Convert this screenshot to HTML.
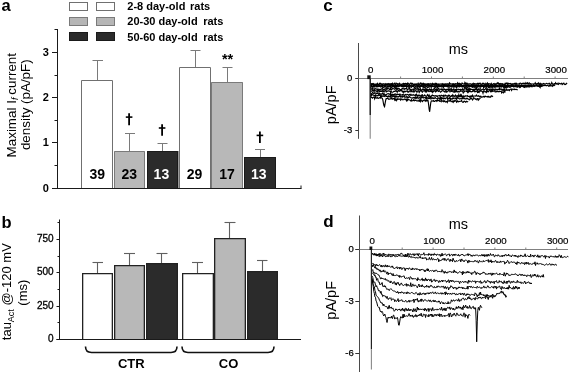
<!DOCTYPE html>
<html><head><meta charset="utf-8"><style>
html,body{margin:0;padding:0;background:#fff;}
body{width:569px;height:372px;overflow:hidden;}
svg{display:block;filter:grayscale(100%);}
text{font-family:"Liberation Sans", sans-serif;}
</style></head><body>
<svg width="569" height="372" viewBox="0 0 569 372">
<rect width="569" height="372" fill="#fff"/>
<text x="1.5" y="11.0" font-size="16.5" font-weight="bold">a</text>
<rect x="69.5" y="2.5" width="18" height="8" fill="#ffffff" stroke="#707070" stroke-width="1"/>
<rect x="96.5" y="2.5" width="18" height="8" fill="#ffffff" stroke="#707070" stroke-width="1"/>
<text x="127.3" y="9.8" font-size="11" font-weight="bold">2-8 day-old</text>
<text x="190" y="9.8" font-size="11" font-weight="bold">rats</text>
<rect x="69.5" y="17.5" width="18" height="8" fill="#b6b6b6" stroke="#7a7a7a" stroke-width="1"/>
<rect x="96.5" y="17.5" width="18" height="8" fill="#b6b6b6" stroke="#7a7a7a" stroke-width="1"/>
<text x="127.3" y="25.4" font-size="11" font-weight="bold">20-30 day-old</text>
<text x="203.2" y="25.4" font-size="11" font-weight="bold">rats</text>
<rect x="69.5" y="32.5" width="18" height="8" fill="#2b2b2b" stroke="#1a1a1a" stroke-width="1"/>
<rect x="96.5" y="32.5" width="18" height="8" fill="#2b2b2b" stroke="#1a1a1a" stroke-width="1"/>
<text x="127.3" y="41.0" font-size="11" font-weight="bold">50-60 day-old</text>
<text x="203.2" y="41.0" font-size="11" font-weight="bold">rats</text>
<line x1="57.5" y1="29" x2="57.5" y2="188.5" stroke="#1a1a1a" stroke-width="1"/>
<line x1="52" y1="188.5" x2="301.5" y2="188.5" stroke="#1a1a1a" stroke-width="1"/>
<line x1="301" y1="185.5" x2="301" y2="188.5" stroke="#1a1a1a" stroke-width="1"/>
<line x1="54.5" y1="29.5" x2="57.5" y2="29.5" stroke="#1a1a1a" stroke-width="1"/>
<line x1="52" y1="188.5" x2="57.5" y2="188.5" stroke="#1a1a1a" stroke-width="1"/>
<text x="48.8" y="191.9" font-size="11" font-weight="bold" text-anchor="end">0</text>
<line x1="52" y1="142.5" x2="57.5" y2="142.5" stroke="#1a1a1a" stroke-width="1"/>
<text x="48.8" y="145.9" font-size="11" font-weight="bold" text-anchor="end">1</text>
<line x1="52" y1="97.5" x2="57.5" y2="97.5" stroke="#1a1a1a" stroke-width="1"/>
<text x="48.8" y="100.9" font-size="11" font-weight="bold" text-anchor="end">2</text>
<line x1="52" y1="52.5" x2="57.5" y2="52.5" stroke="#1a1a1a" stroke-width="1"/>
<text x="48.8" y="55.9" font-size="11" font-weight="bold" text-anchor="end">3</text>
<line x1="54.5" y1="165.5" x2="57.5" y2="165.5" stroke="#1a1a1a" stroke-width="1"/>
<line x1="54.5" y1="120.5" x2="57.5" y2="120.5" stroke="#1a1a1a" stroke-width="1"/>
<line x1="54.5" y1="75.5" x2="57.5" y2="75.5" stroke="#1a1a1a" stroke-width="1"/>
<line x1="97.5" y1="80" x2="97.5" y2="60.5" stroke="#7a7a7a" stroke-width="1"/>
<line x1="92.5" y1="60.5" x2="103" y2="60.5" stroke="#7a7a7a" stroke-width="1"/>
<rect x="81" y="80" width="32" height="108" fill="#ffffff"/>
<path d="M81.5,188 L81.5,80.5 L112.5,80.5 L112.5,188" fill="none" stroke="#707070" stroke-width="1"/>
<text x="97.2" y="178.9" font-size="14" font-weight="bold" text-anchor="middle" fill="#000">39</text>
<line x1="129.5" y1="151" x2="129.5" y2="133.5" stroke="#7a7a7a" stroke-width="1"/>
<line x1="125" y1="133.5" x2="135" y2="133.5" stroke="#7a7a7a" stroke-width="1"/>
<rect x="114" y="151" width="31" height="37" fill="#b8b8b8"/>
<path d="M114.5,188 L114.5,151.5 L144.5,151.5 L144.5,188" fill="none" stroke="#7a7a7a" stroke-width="1"/>
<text x="129.3" y="178.9" font-size="14" font-weight="bold" text-anchor="middle" fill="#000">23</text>
<line x1="162.5" y1="151" x2="162.5" y2="143.5" stroke="#7a7a7a" stroke-width="1"/>
<line x1="157.5" y1="143.5" x2="167.5" y2="143.5" stroke="#7a7a7a" stroke-width="1"/>
<rect x="147" y="151" width="31" height="37" fill="#2b2b2b"/>
<path d="M147.5,188 L147.5,151.5 L177.5,151.5 L177.5,188" fill="none" stroke="#1a1a1a" stroke-width="1"/>
<text x="161.4" y="178.9" font-size="14" font-weight="bold" text-anchor="middle" fill="#fff">13</text>
<line x1="195.5" y1="67" x2="195.5" y2="50.5" stroke="#7a7a7a" stroke-width="1"/>
<line x1="190.5" y1="50.5" x2="200.5" y2="50.5" stroke="#7a7a7a" stroke-width="1"/>
<rect x="179" y="67" width="32" height="121" fill="#ffffff"/>
<path d="M179.5,188 L179.5,67.5 L210.5,67.5 L210.5,188" fill="none" stroke="#707070" stroke-width="1"/>
<text x="194.6" y="178.9" font-size="14" font-weight="bold" text-anchor="middle" fill="#000">29</text>
<line x1="227.5" y1="82" x2="227.5" y2="67.5" stroke="#7a7a7a" stroke-width="1"/>
<line x1="222.5" y1="67.5" x2="232.5" y2="67.5" stroke="#7a7a7a" stroke-width="1"/>
<rect x="211" y="82" width="32" height="106" fill="#b8b8b8"/>
<path d="M211.5,188 L211.5,82.5 L242.5,82.5 L242.5,188" fill="none" stroke="#7a7a7a" stroke-width="1"/>
<text x="227.0" y="178.9" font-size="14" font-weight="bold" text-anchor="middle" fill="#000">17</text>
<line x1="260.5" y1="157" x2="260.5" y2="149.5" stroke="#7a7a7a" stroke-width="1"/>
<line x1="255" y1="149.5" x2="265" y2="149.5" stroke="#7a7a7a" stroke-width="1"/>
<rect x="244" y="157" width="32" height="31" fill="#2b2b2b"/>
<path d="M244.5,188 L244.5,157.5 L275.5,157.5 L275.5,188" fill="none" stroke="#1a1a1a" stroke-width="1"/>
<text x="258.8" y="178.9" font-size="14" font-weight="bold" text-anchor="middle" fill="#fff">13</text>
<rect x="178" y="151" width="1" height="37" fill="#9a9a9a"/>
<line x1="129.1" y1="113.3" x2="129.1" y2="125.2" stroke="#000" stroke-width="1.8"/>
<line x1="125.8" y1="117.1" x2="132.4" y2="117.1" stroke="#000" stroke-width="1.6"/>
<line x1="162.1" y1="124.2" x2="162.1" y2="135.8" stroke="#000" stroke-width="1.8"/>
<line x1="158.79999999999998" y1="128.0" x2="165.4" y2="128.0" stroke="#000" stroke-width="1.6"/>
<line x1="259.9" y1="131.6" x2="259.9" y2="143.0" stroke="#000" stroke-width="1.8"/>
<line x1="256.59999999999997" y1="135.4" x2="263.2" y2="135.4" stroke="#000" stroke-width="1.6"/>
<text x="227.6" y="64.4" font-size="14.5" font-weight="bold" text-anchor="middle">**</text>
<text transform="translate(15.8,105.2) rotate(-90)" font-size="13.4" text-anchor="middle">Maximal I<tspan font-size="9" dy="2" font-style="italic">f</tspan><tspan dy="-2" dx="-0.8"> current</tspan></text>
<text transform="translate(30.3,104.7) rotate(-90)" font-size="13.4" text-anchor="middle">density (pA/pF)</text>
<text x="1.6" y="227.9" font-size="16.5" font-weight="bold">b</text>
<line x1="59.5" y1="219.5" x2="59.5" y2="339.5" stroke="#1a1a1a" stroke-width="1"/>
<line x1="56.5" y1="339.5" x2="301" y2="339.5" stroke="#1a1a1a" stroke-width="1"/>
<line x1="56.5" y1="339.5" x2="59.5" y2="339.5" stroke="#1a1a1a" stroke-width="1"/>
<text x="53.6" y="342.3" font-size="10" text-anchor="end" stroke="#000" stroke-width="0.3">0</text>
<line x1="56.5" y1="306.5" x2="59.5" y2="306.5" stroke="#1a1a1a" stroke-width="1"/>
<text x="53.6" y="309.3" font-size="10" text-anchor="end" stroke="#000" stroke-width="0.3">250</text>
<line x1="56.5" y1="272.5" x2="59.5" y2="272.5" stroke="#1a1a1a" stroke-width="1"/>
<text x="53.6" y="275.3" font-size="10" text-anchor="end" stroke="#000" stroke-width="0.3">500</text>
<line x1="56.5" y1="239.5" x2="59.5" y2="239.5" stroke="#1a1a1a" stroke-width="1"/>
<text x="53.6" y="242.3" font-size="10" text-anchor="end" stroke="#000" stroke-width="0.3">750</text>
<line x1="57.5" y1="322.5" x2="59.5" y2="322.5" stroke="#1a1a1a" stroke-width="1"/>
<line x1="57.5" y1="289.5" x2="59.5" y2="289.5" stroke="#1a1a1a" stroke-width="1"/>
<line x1="57.5" y1="256.5" x2="59.5" y2="256.5" stroke="#1a1a1a" stroke-width="1"/>
<line x1="57.5" y1="222.5" x2="59.5" y2="222.5" stroke="#1a1a1a" stroke-width="1"/>
<line x1="97.5" y1="273" x2="97.5" y2="262.5" stroke="#606060" stroke-width="1.1"/>
<line x1="92.5" y1="262.5" x2="103" y2="262.5" stroke="#606060" stroke-width="1.1"/>
<rect x="82" y="273" width="31" height="66" fill="#ffffff"/>
<path d="M82.65,339 L82.65,273.65 L112.35,273.65 L112.35,339" fill="none" stroke="#222" stroke-width="1.3"/>
<line x1="129.5" y1="265" x2="129.5" y2="253.5" stroke="#606060" stroke-width="1.1"/>
<line x1="124" y1="253.5" x2="135" y2="253.5" stroke="#606060" stroke-width="1.1"/>
<rect x="114" y="265" width="31" height="74" fill="#b8b8b8"/>
<path d="M114.65,339 L114.65,265.65 L144.35,265.65 L144.35,339" fill="none" stroke="#222" stroke-width="1.3"/>
<line x1="161.5" y1="263" x2="161.5" y2="253.5" stroke="#606060" stroke-width="1.1"/>
<line x1="156.5" y1="253.5" x2="167.5" y2="253.5" stroke="#606060" stroke-width="1.1"/>
<rect x="146" y="263" width="32" height="76" fill="#2b2b2b"/>
<path d="M146.65,339 L146.65,263.65 L177.35,263.65 L177.35,339" fill="none" stroke="#222" stroke-width="1.3"/>
<line x1="197.5" y1="273" x2="197.5" y2="262.5" stroke="#606060" stroke-width="1.1"/>
<line x1="192" y1="262.5" x2="203" y2="262.5" stroke="#606060" stroke-width="1.1"/>
<rect x="182" y="273" width="32" height="66" fill="#ffffff"/>
<path d="M182.65,339 L182.65,273.65 L213.35,273.65 L213.35,339" fill="none" stroke="#222" stroke-width="1.3"/>
<line x1="229.5" y1="238" x2="229.5" y2="222.5" stroke="#606060" stroke-width="1.1"/>
<line x1="224.5" y1="222.5" x2="235.5" y2="222.5" stroke="#606060" stroke-width="1.1"/>
<rect x="214" y="238" width="32" height="101" fill="#b8b8b8"/>
<path d="M214.65,339 L214.65,238.65 L245.35,238.65 L245.35,339" fill="none" stroke="#222" stroke-width="1.3"/>
<line x1="262.5" y1="271" x2="262.5" y2="260.5" stroke="#606060" stroke-width="1.1"/>
<line x1="257" y1="260.5" x2="267.5" y2="260.5" stroke="#606060" stroke-width="1.1"/>
<rect x="247" y="271" width="31" height="68" fill="#2b2b2b"/>
<path d="M247.65,339 L247.65,271.65 L277.35,271.65 L277.35,339" fill="none" stroke="#222" stroke-width="1.3"/>
<path d="M85.5,346.5 Q85.5,352.5 91.5,352.5 L171,352.5 Q177,352.5 177,346.5" fill="none" stroke="#111" stroke-width="1.6"/>
<path d="M182,346.5 Q182,352.5 188,352.5 L268,352.5 Q274,352.5 274,346.5" fill="none" stroke="#111" stroke-width="1.6"/>
<text x="131.3" y="368" font-size="13" font-weight="bold" text-anchor="middle">CTR</text>
<text x="228.5" y="368" font-size="13" font-weight="bold" text-anchor="middle">CO</text>
<text transform="translate(11.2,291.7) rotate(-90)" font-size="13" text-anchor="middle">tau<tspan font-size="9" dy="2.5">Act</tspan><tspan dy="-2.5"> @-120 mV</tspan></text>
<text transform="translate(27.4,292.7) rotate(-90)" font-size="13" text-anchor="middle">(ms)</text>
<text x="323.3" y="11.0" font-size="17" font-weight="bold">c</text>
<line x1="358.5" y1="43" x2="358.5" y2="138.8" stroke="#4a4a4a" stroke-width="1"/>
<line x1="355.5" y1="78.5" x2="568" y2="78.5" stroke="#808080" stroke-width="1"/>
<line x1="355.3" y1="78.5" x2="358.5" y2="78.5" stroke="#333" stroke-width="1"/>
<text x="352.2" y="80.7" font-size="9.5" text-anchor="end" stroke="#000" stroke-width="0.25">0</text>
<line x1="355.3" y1="130.5" x2="358.5" y2="130.5" stroke="#333" stroke-width="1"/>
<text x="352.2" y="132.7" font-size="9.5" text-anchor="end" stroke="#000" stroke-width="0.25">-3</text>
<line x1="369.7" y1="76.5" x2="369.7" y2="78.5" stroke="#808080" stroke-width="1"/>
<text x="370.7" y="72.7" font-size="9.7" text-anchor="middle" stroke="#000" stroke-width="0.2">0</text>
<line x1="400.6" y1="76.5" x2="400.6" y2="78.5" stroke="#808080" stroke-width="1"/>
<line x1="431.5" y1="76.5" x2="431.5" y2="78.5" stroke="#808080" stroke-width="1"/>
<text x="432.5" y="72.7" font-size="9.7" text-anchor="middle" stroke="#000" stroke-width="0.2">1000</text>
<line x1="462.4" y1="76.5" x2="462.4" y2="78.5" stroke="#808080" stroke-width="1"/>
<line x1="493.3" y1="76.5" x2="493.3" y2="78.5" stroke="#808080" stroke-width="1"/>
<text x="494.3" y="72.7" font-size="9.7" text-anchor="middle" stroke="#000" stroke-width="0.2">2000</text>
<line x1="524.2" y1="76.5" x2="524.2" y2="78.5" stroke="#808080" stroke-width="1"/>
<line x1="555.1" y1="76.5" x2="555.1" y2="78.5" stroke="#808080" stroke-width="1"/>
<text x="556.1" y="72.7" font-size="9.7" text-anchor="middle" stroke="#000" stroke-width="0.2">3000</text>
<text x="458.3" y="53.7" font-size="14.5" text-anchor="middle">ms</text>
<text transform="translate(335.5,104.8) rotate(-90)" font-size="14.5" text-anchor="middle">pA/pF</text>
<path d="M370.80,83.7 L371.35,84.0 L371.90,83.8 L372.45,83.7 L373.00,83.5 L373.55,83.8 L374.10,84.4 L374.65,84.1 L375.20,84.4 L375.75,84.1 L376.30,84.1 L376.85,84.0 L377.40,83.3 L377.95,84.3 L378.50,84.2 L379.05,84.2 L379.60,83.3 L380.15,83.2 L380.70,83.6 L381.25,83.8 L381.80,84.1 L382.35,84.0 L382.90,84.2 L383.45,83.7 L384.00,84.1 L384.55,84.1 L385.10,83.7 L385.65,84.7 L386.20,84.2 L386.75,84.5 L387.30,83.7 L387.85,83.7 L388.40,83.8 L388.95,83.9 L389.50,84.2 L390.05,84.1 L390.60,83.8 L391.15,83.6 L391.70,83.7 L392.25,84.5 L392.80,83.6 L393.35,84.1 L393.90,84.1 L394.45,83.3 L395.00,84.0 L395.55,84.5 L396.10,83.1 L396.65,83.8 L397.20,83.9 L397.75,83.6 L398.30,84.2 L398.85,83.9 L399.40,83.3 L399.95,84.3 L400.50,84.2 L401.05,84.3 L401.60,84.6 L402.15,84.1 L402.70,84.0 L403.25,83.4 L403.80,84.2 L404.35,83.7 L404.90,83.8 L405.45,83.4 L406.00,83.5 L406.55,83.7 L407.10,84.5 L407.65,83.1 L408.20,83.3 L408.75,84.0 L409.30,84.5 L409.85,84.2 L410.40,83.1 L410.95,82.9 L411.50,84.1 L412.05,83.6 L412.60,83.5 L413.15,84.3 L413.70,84.4 L414.25,84.0 L414.80,84.0 L415.35,84.1 L415.90,84.6 L416.45,84.2 L417.00,84.1 L417.55,84.2 L418.10,83.3 L418.65,84.5 L419.20,84.3 L419.75,84.1 L420.30,83.1 L420.85,83.7 L421.40,84.3 L421.95,83.2 L422.50,83.8 L423.05,84.3 L423.60,83.4 L424.15,84.6 L424.70,84.1 L425.25,83.9 L425.80,84.1 L426.35,84.2 L426.90,84.0 L427.45,84.4 L428.00,83.6 L428.55,83.7 L429.10,84.3 L429.65,83.9 L430.20,83.5 L430.75,84.3 L431.30,84.5 L431.85,83.7 L432.40,83.3 L432.95,83.8 L433.50,83.8 L434.05,83.8 L434.60,84.5 L435.15,83.5 L435.70,84.4 L436.25,83.4 L436.80,83.6 L437.35,84.2 L437.90,84.4 L438.45,84.3 L439.00,84.0 L439.55,84.0 L440.10,84.0 L440.65,84.1 L441.20,83.8 L441.75,84.0 L442.30,84.1 L442.85,83.9 L443.40,84.2 L443.95,84.1 L444.50,84.7 L445.05,84.0 L445.60,83.7 L446.15,83.7 L446.70,83.9 L447.25,84.3 L447.80,83.7 L448.35,84.0 L448.90,84.6 L449.45,82.8 L450.00,83.4 L450.55,84.0 L451.10,84.0 L451.65,84.0 L452.20,83.7 L452.75,84.1 L453.30,84.0 L453.85,83.7 L454.40,84.9 L454.95,84.0 L455.50,83.6 L456.05,83.8 L456.60,83.8 L457.15,83.8 L457.70,82.7 L458.25,83.7 L458.80,84.3 L459.35,83.4 L459.90,83.8 L460.45,84.3 L461.00,84.2 L461.55,84.5 L462.10,83.1 L462.65,83.7 L463.20,83.7 L463.75,84.1 L464.30,84.3 L464.85,82.7 L465.40,84.3 L465.95,83.2 L466.50,84.1 L467.05,83.2 L467.60,83.9 L468.15,84.3 L468.70,83.8 L469.25,83.9 L469.80,84.2 L470.35,83.9 L470.90,83.8 L471.45,84.5 L472.00,84.3 L472.55,83.7 L473.10,85.0 L473.65,83.4 L474.20,84.2 L474.75,83.7 L475.30,83.9 L475.85,84.1 L476.40,83.9 L476.95,84.1 L477.50,83.2 L478.05,83.2 L478.60,84.1 L479.15,83.4 L479.70,83.4 L480.25,83.2 L480.80,84.4 L481.35,84.1 L481.90,84.4 L482.45,83.4 L483.00,83.8 L483.55,83.4 L484.10,84.1 L484.65,84.5 L485.20,83.5 L485.75,84.5 L486.30,84.2 L486.85,83.7 L487.40,83.0 L487.95,84.4 L488.50,83.8 L489.05,83.6 L489.60,84.0 L490.15,84.0 L490.70,84.4 L491.25,83.4 L491.80,84.3 L492.35,84.4 L492.90,84.4 L493.45,83.7 L494.00,83.5 L494.55,84.2 L495.10,83.9 L495.65,83.9 L496.20,84.4 L496.75,83.7 L497.30,82.8 L497.85,83.6 L498.40,83.0 L498.95,84.1 L499.50,83.9 L500.05,83.5 L500.60,83.8 L501.15,84.1 L501.70,83.8 L502.25,84.4 L502.80,83.8 L503.35,84.2 L503.90,84.4 L504.45,84.5 L505.00,83.5 L505.55,84.2 L506.10,83.0 L506.65,83.3 L507.20,83.0 L507.75,84.2 L508.30,83.3 L508.85,83.8 L509.40,83.7 L509.95,83.8 L510.50,83.5 L511.05,83.9 L511.60,84.5 L512.15,83.8 L512.70,84.0 L513.25,84.2 L513.80,83.7 L514.35,83.3 L514.90,83.5 L515.45,84.2 L516.00,83.1 L516.55,83.5 L517.10,84.2 L517.65,84.1 L518.20,83.8 L518.75,84.1 L519.30,83.8 L519.85,83.3 L520.40,83.1 L520.95,83.5 L521.50,84.2 L522.05,83.5 L522.60,83.4 L523.15,83.4 L523.70,83.1 L524.25,83.7 L524.80,83.3 L525.35,83.9 L525.90,82.8 L526.45,83.9 L527.00,83.5 L527.55,82.9 L528.10,84.1 L528.65,83.6 L529.20,82.8 L529.75,83.4 L530.30,83.9 L530.85,83.6 L531.40,84.1 L531.95,84.1 L532.50,84.0 L533.05,83.9 L533.60,84.3 L534.15,84.0 L534.70,83.9 L535.25,82.9 L535.80,84.1 L536.35,84.3 L536.90,83.6 L537.45,83.5 L538.00,84.6 L538.55,83.0 L539.10,83.9 L539.65,84.8 L540.20,83.4 L540.75,84.0 L541.30,84.5 L541.85,83.7 L542.40,84.0 L542.95,84.1 L543.50,83.4 L544.05,83.7 L544.60,83.9 L545.15,84.1 L545.70,83.7 L546.25,83.6 L546.80,83.3 L547.35,83.6 L547.90,84.1 L548.45,83.8 L549.00,83.4 L549.55,83.4 L550.10,84.8 L550.65,84.2 L551.20,84.0 L551.75,82.6 L552.30,84.0 L552.85,83.9 L553.40,84.4 L553.95,83.9 L554.50,83.7 L555.05,83.9 L555.60,82.9 L556.15,84.1 L556.70,83.9 L557.25,83.4 L557.80,84.3 L558.35,84.5 L558.90,83.1 L559.45,83.4 L560.00,83.8 L560.55,83.8 L561.10,83.5 L561.65,83.3 L562.20,84.6 L562.75,84.1 L563.30,83.2 L563.85,83.1 L564.40,84.4 L564.95,84.1 L565.50,84.5 L566.05,84.0 L566.60,83.3 L567.15,83.8" fill="none" stroke="#000" stroke-width="1.15"/>
<path d="M370.80,83.4 L371.35,84.1 L371.90,84.5 L372.45,84.8 L373.00,84.3 L373.55,84.6 L374.10,84.9 L374.65,84.9 L375.20,85.0 L375.75,84.8 L376.30,84.6 L376.85,85.1 L377.40,84.8 L377.95,84.4 L378.50,84.5 L379.05,84.8 L379.60,84.8 L380.15,84.9 L380.70,84.8 L381.25,84.9 L381.80,84.8 L382.35,84.3 L382.90,85.0 L383.45,85.3 L384.00,85.1 L384.55,84.8 L385.10,85.1 L385.65,84.4 L386.20,84.0 L386.75,84.9 L387.30,84.4 L387.85,85.2 L388.40,84.4 L388.95,83.7 L389.50,84.4 L390.05,85.6 L390.60,84.7 L391.15,84.3 L391.70,84.5 L392.25,85.1 L392.80,85.1 L393.35,85.0 L393.90,85.6 L394.45,85.2 L395.00,84.9 L395.55,85.2 L396.10,85.7 L396.65,85.4 L397.20,85.4 L397.75,84.4 L398.30,84.9 L398.85,85.3 L399.40,84.8 L399.95,85.4 L400.50,85.2 L401.05,85.4 L401.60,84.8 L402.15,86.1 L402.70,85.5 L403.25,84.8 L403.80,85.0 L404.35,86.1 L404.90,84.8 L405.45,85.4 L406.00,85.4 L406.55,85.0 L407.10,84.4 L407.65,85.0 L408.20,85.1 L408.75,85.5 L409.30,85.3 L409.85,85.0 L410.40,85.4 L410.95,85.2 L411.50,85.1 L412.05,85.0 L412.60,84.9 L413.15,85.3 L413.70,84.5 L414.25,84.7 L414.80,85.0 L415.35,84.3 L415.90,84.8 L416.45,84.1 L417.00,84.7 L417.55,85.3 L418.10,85.3 L418.65,85.0 L419.20,84.9 L419.75,84.4 L420.30,85.9 L420.85,85.3 L421.40,85.5 L421.95,84.6 L422.50,84.9 L423.05,84.2 L423.60,85.4 L424.15,85.5 L424.70,84.2 L425.25,85.0 L425.80,85.3 L426.35,84.2 L426.90,84.2 L427.45,84.6 L428.00,84.8 L428.55,84.4 L429.10,85.1 L429.65,85.2 L430.20,85.4 L430.75,85.4 L431.30,85.8 L431.85,85.6 L432.40,84.5 L432.95,84.8 L433.50,84.6 L434.05,84.6 L434.60,85.0 L435.15,85.1 L435.70,85.3 L436.25,84.4 L436.80,84.5 L437.35,85.1 L437.90,85.0 L438.45,85.0 L439.00,85.1 L439.55,84.7 L440.10,85.4 L440.65,85.3 L441.20,85.1 L441.75,84.8 L442.30,85.0 L442.85,83.9 L443.40,84.7 L443.95,85.1 L444.50,84.4 L445.05,85.2 L445.60,85.2 L446.15,84.5 L446.70,85.0 L447.25,85.0 L447.80,85.3 L448.35,85.4 L448.90,85.1 L449.45,84.8 L450.00,85.1 L450.55,85.1 L451.10,85.5 L451.65,85.3 L452.20,84.8 L452.75,84.5 L453.30,85.0 L453.85,84.8 L454.40,84.7 L454.95,85.1 L455.50,84.9 L456.05,85.2 L456.60,85.4 L457.15,85.0 L457.70,86.3 L458.25,85.0 L458.80,85.7 L459.35,85.2 L459.90,85.7 L460.45,84.1 L461.00,84.8 L461.55,85.3 L462.10,85.5 L462.65,86.3 L463.20,85.4 L463.75,85.8 L464.30,85.6 L464.85,85.6 L465.40,85.4 L465.95,85.1 L466.50,85.5 L467.05,84.7 L467.60,85.8 L468.15,84.8 L468.70,85.3 L469.25,86.2 L469.80,85.1 L470.35,85.2 L470.90,85.8 L471.45,85.3 L472.00,84.9 L472.55,85.4 L473.10,85.5 L473.65,85.6 L474.20,84.9 L474.75,86.1 L475.30,86.0 L475.85,85.3 L476.40,85.4 L476.95,85.1 L477.50,85.9 L478.05,84.9 L478.60,85.6 L479.15,85.1 L479.70,85.0 L480.25,85.6 L480.80,85.9 L481.35,85.3 L481.90,85.0 L482.45,85.7 L483.00,85.3 L483.55,85.4 L484.10,86.0 L484.65,85.8 L485.20,85.1 L485.75,86.4 L486.30,85.3 L486.85,85.7 L487.40,85.0 L487.95,85.3 L488.50,84.5 L489.05,86.1 L489.60,85.9 L490.15,84.8 L490.70,84.6 L491.25,84.6 L491.80,85.9 L492.35,85.1 L492.90,85.3 L493.45,85.2 L494.00,85.3 L494.55,84.8 L495.10,85.4 L495.65,84.7 L496.20,85.3 L496.75,85.5 L497.30,85.6 L497.85,85.2 L498.40,84.9 L498.95,85.4 L499.50,85.1 L500.05,86.1 L500.60,85.7 L501.15,85.3 L501.70,85.2 L502.25,85.0 L502.80,84.9 L503.35,85.2 L503.90,85.5 L504.45,85.6 L505.00,85.6 L505.55,86.4 L506.10,85.1 L506.65,85.4 L507.20,86.7 L507.75,84.5 L508.30,85.2 L508.85,85.5 L509.40,85.5 L509.95,85.6 L510.50,85.3 L511.05,85.6 L511.60,85.4 L512.15,85.8 L512.70,84.5 L513.25,85.0 L513.80,85.4 L514.35,84.9 L514.90,84.9 L515.45,85.7 L516.00,85.1 L516.55,85.7 L517.10,85.8 L517.65,85.6 L518.20,85.7 L518.75,85.4 L519.30,84.8 L519.85,85.4 L520.40,85.7 L520.95,85.2 L521.50,85.4 L522.05,85.8 L522.60,85.1 L523.15,85.8 L523.70,86.3 L524.25,85.2 L524.80,85.5 L525.35,85.4 L525.90,86.2 L526.45,85.6 L527.00,85.9 L527.55,85.2 L528.10,85.5 L528.65,85.5 L529.20,84.7 L529.75,86.2 L530.30,85.9 L530.85,84.7 L531.40,85.8 L531.95,85.4 L532.50,85.7 L533.05,85.7 L533.60,84.8 L534.15,85.4 L534.70,86.2 L535.25,85.2 L535.80,85.0 L536.35,84.9 L536.90,85.0 L537.45,85.7 L538.00,86.3 L538.55,85.7 L539.10,85.6 L539.65,86.6 L540.20,85.3 L540.75,85.2 L541.30,85.8 L541.85,85.8 L542.40,85.1 L542.95,85.0 L543.50,85.7 L544.05,85.7 L544.60,85.0 L545.15,85.5 L545.70,85.3 L546.25,85.8 L546.80,85.5 L547.35,85.5 L547.90,85.4 L548.45,86.1 L549.00,86.2 L549.55,85.4 L550.10,86.0 L550.65,85.2 L551.20,85.6 L551.75,85.9 L552.30,86.3 L552.85,85.4 L553.40,85.6 L553.95,85.7 L554.50,84.9 L555.05,85.6" fill="none" stroke="#000" stroke-width="1.15"/>
<path d="M370.80,84.8 L371.35,85.5 L371.90,84.7 L372.45,84.3 L373.00,85.4 L373.55,85.6 L374.10,85.2 L374.65,86.0 L375.20,85.4 L375.75,85.2 L376.30,85.8 L376.85,84.7 L377.40,85.2 L377.95,85.6 L378.50,86.1 L379.05,85.5 L379.60,85.8 L380.15,85.3 L380.70,85.8 L381.25,86.5 L381.80,85.3 L382.35,86.9 L382.90,85.3 L383.45,85.7 L384.00,85.7 L384.55,86.2 L385.10,85.0 L385.65,84.5 L386.20,86.0 L386.75,86.1 L387.30,86.0 L387.85,87.1 L388.40,85.8 L388.95,85.8 L389.50,86.2 L390.05,85.9 L390.60,86.6 L391.15,85.0 L391.70,85.5 L392.25,83.8 L392.80,86.1 L393.35,85.5 L393.90,86.2 L394.45,86.9 L395.00,85.7 L395.55,85.5 L396.10,85.4 L396.65,85.2 L397.20,85.3 L397.75,86.0 L398.30,85.7 L398.85,85.7 L399.40,85.6 L399.95,86.2 L400.50,86.0 L401.05,85.6 L401.60,86.1 L402.15,85.6 L402.70,85.1 L403.25,86.5 L403.80,86.0 L404.35,85.2 L404.90,86.3 L405.45,85.9 L406.00,84.9 L406.55,86.6 L407.10,85.9 L407.65,86.2 L408.20,85.8 L408.75,85.7 L409.30,84.9 L409.85,86.3 L410.40,85.8 L410.95,85.6 L411.50,85.9 L412.05,85.8 L412.60,86.1 L413.15,85.5 L413.70,85.7 L414.25,84.6 L414.80,85.5 L415.35,86.1 L415.90,86.5 L416.45,85.6 L417.00,85.7 L417.55,86.6 L418.10,85.6 L418.65,86.2 L419.20,86.7 L419.75,85.8 L420.30,86.4 L420.85,85.4 L421.40,85.9 L421.95,85.7 L422.50,85.8 L423.05,86.4 L423.60,87.1 L424.15,85.4 L424.70,85.5 L425.25,86.1 L425.80,85.2 L426.35,86.1 L426.90,86.1 L427.45,85.6 L428.00,86.1 L428.55,85.0 L429.10,86.2 L429.65,85.0 L430.20,85.4 L430.75,85.5 L431.30,85.6 L431.85,86.3 L432.40,85.9 L432.95,85.6 L433.50,86.1 L434.05,86.7 L434.60,85.8 L435.15,86.0 L435.70,86.5 L436.25,86.0 L436.80,85.1 L437.35,87.2 L437.90,87.1 L438.45,84.7 L439.00,85.8 L439.55,86.1 L440.10,86.4 L440.65,86.2 L441.20,85.7 L441.75,85.3 L442.30,85.9 L442.85,86.4 L443.40,85.3 L443.95,85.3 L444.50,85.8 L445.05,84.8 L445.60,85.7 L446.15,85.6 L446.70,86.1 L447.25,85.5 L447.80,85.4 L448.35,85.7 L448.90,85.8 L449.45,85.5 L450.00,85.9 L450.55,86.3 L451.10,86.5 L451.65,86.8 L452.20,85.5 L452.75,85.7 L453.30,84.5 L453.85,86.9 L454.40,85.5 L454.95,85.9 L455.50,86.2 L456.05,85.2 L456.60,86.2 L457.15,85.9 L457.70,84.9 L458.25,86.1 L458.80,86.6 L459.35,84.9 L459.90,86.4 L460.45,86.0 L461.00,86.2 L461.55,86.2 L462.10,86.6 L462.65,85.8 L463.20,86.4 L463.75,85.7 L464.30,86.3 L464.85,85.5 L465.40,85.9 L465.95,86.9 L466.50,86.2 L467.05,85.8 L467.60,85.3 L468.15,85.5 L468.70,86.0 L469.25,86.5 L469.80,86.2 L470.35,86.2 L470.90,85.9 L471.45,86.7 L472.00,85.7 L472.55,85.7 L473.10,86.4 L473.65,86.0 L474.20,85.8 L474.75,85.6 L475.30,85.8 L475.85,86.3 L476.40,86.2 L476.95,85.3 L477.50,86.2 L478.05,86.1 L478.60,85.4 L479.15,86.4 L479.70,85.8 L480.25,85.8 L480.80,86.4 L481.35,86.7 L481.90,85.6 L482.45,86.2 L483.00,85.5 L483.55,87.3 L484.10,85.7 L484.65,86.7 L485.20,85.6 L485.75,86.4 L486.30,87.2 L486.85,84.6 L487.40,85.8 L487.95,86.3 L488.50,86.0 L489.05,85.6 L489.60,87.2 L490.15,86.1 L490.70,85.1 L491.25,86.5 L491.80,85.1 L492.35,86.7 L492.90,85.7 L493.45,86.1 L494.00,86.7 L494.55,86.1 L495.10,85.3 L495.65,85.1 L496.20,86.7 L496.75,86.4 L497.30,85.6 L497.85,86.5 L498.40,86.3 L498.95,86.4 L499.50,84.8 L500.05,85.9 L500.60,86.5 L501.15,86.5 L501.70,86.5 L502.25,84.7 L502.80,86.2 L503.35,86.3 L503.90,87.5 L504.45,85.5 L505.00,85.9 L505.55,86.1 L506.10,86.6 L506.65,85.8 L507.20,86.7 L507.75,85.6 L508.30,86.2 L508.85,85.8 L509.40,86.2 L509.95,85.7 L510.50,85.2 L511.05,86.7 L511.60,86.3 L512.15,85.8 L512.70,86.2 L513.25,86.6 L513.80,85.6 L514.35,86.0 L514.90,86.4 L515.45,86.4 L516.00,85.9 L516.55,84.9 L517.10,86.8 L517.65,86.3 L518.20,86.1 L518.75,86.0 L519.30,86.3 L519.85,85.9 L520.40,85.6 L520.95,85.7 L521.50,85.8 L522.05,85.8 L522.60,85.5 L523.15,86.5 L523.70,85.4 L524.25,86.5 L524.80,85.6 L525.35,86.3 L525.90,86.9 L526.45,86.3 L527.00,85.7 L527.55,86.2 L528.10,86.2 L528.65,85.2 L529.20,85.8 L529.75,86.2 L530.30,85.9 L530.85,86.2 L531.40,86.6 L531.95,86.6 L532.50,86.7 L533.05,86.5 L533.60,86.0 L534.15,86.2 L534.70,86.0 L535.25,86.0 L535.80,86.1 L536.35,85.2 L536.90,86.0 L537.45,86.2 L538.00,85.6 L538.55,86.2 L539.10,86.5 L539.65,86.1 L540.20,87.3 L540.75,84.8 L541.30,86.1 L541.85,85.2 L542.40,86.7" fill="none" stroke="#000" stroke-width="1.15"/>
<path d="M370.80,88.0 L371.35,85.1 L371.90,86.6 L372.45,86.8 L373.00,86.4 L373.55,86.9 L374.10,85.3 L374.65,87.0 L375.20,86.8 L375.75,86.6 L376.30,86.3 L376.85,86.9 L377.40,86.3 L377.95,86.7 L378.50,86.3 L379.05,85.4 L379.60,86.6 L380.15,86.7 L380.70,87.0 L381.25,86.1 L381.80,86.6 L382.35,86.9 L382.90,86.7 L383.45,87.3 L384.00,87.7 L384.55,86.1 L385.10,85.5 L385.65,87.1 L386.20,87.4 L386.75,87.1 L387.30,87.0 L387.85,86.3 L388.40,86.2 L388.95,87.1 L389.50,86.1 L390.05,85.6 L390.60,86.1 L391.15,88.0 L391.70,87.7 L392.25,86.2 L392.80,86.2 L393.35,86.7 L393.90,86.2 L394.45,87.3 L395.00,86.6 L395.55,86.0 L396.10,87.3 L396.65,86.3 L397.20,86.7 L397.75,86.6 L398.30,86.4 L398.85,86.8 L399.40,86.2 L399.95,85.6 L400.50,85.4 L401.05,85.9 L401.60,86.2 L402.15,86.6 L402.70,86.6 L403.25,86.9 L403.80,86.7 L404.35,86.2 L404.90,86.2 L405.45,85.4 L406.00,86.5 L406.55,86.9 L407.10,86.9 L407.65,86.5 L408.20,86.5 L408.75,87.1 L409.30,86.6 L409.85,87.0 L410.40,86.9 L410.95,86.7 L411.50,87.3 L412.05,86.3 L412.60,86.4 L413.15,86.2 L413.70,86.2 L414.25,87.5 L414.80,87.6 L415.35,86.6 L415.90,86.9 L416.45,87.2 L417.00,87.0 L417.55,87.3 L418.10,85.9 L418.65,86.2 L419.20,86.8 L419.75,87.4 L420.30,86.7 L420.85,86.1 L421.40,86.4 L421.95,86.2 L422.50,86.1 L423.05,87.4 L423.60,86.3 L424.15,86.6 L424.70,87.8 L425.25,87.3 L425.80,86.8 L426.35,86.3 L426.90,86.8 L427.45,87.5 L428.00,86.9 L428.55,87.3 L429.10,86.7 L429.65,86.9 L430.20,86.5 L430.75,86.8 L431.30,87.3 L431.85,85.8 L432.40,86.6 L432.95,86.7 L433.50,86.3 L434.05,86.4 L434.60,87.0 L435.15,87.7 L435.70,86.9 L436.25,86.8 L436.80,85.7 L437.35,87.7 L437.90,86.6 L438.45,86.6 L439.00,86.0 L439.55,86.6 L440.10,86.0 L440.65,86.6 L441.20,86.9 L441.75,86.6 L442.30,86.8 L442.85,86.1 L443.40,87.4 L443.95,86.2 L444.50,85.6 L445.05,86.5 L445.60,86.2 L446.15,86.0 L446.70,86.4 L447.25,86.8 L447.80,85.9 L448.35,86.5 L448.90,87.4 L449.45,87.0 L450.00,86.5 L450.55,86.7 L451.10,86.5 L451.65,86.6 L452.20,87.0 L452.75,86.5 L453.30,85.3 L453.85,86.6 L454.40,86.1 L454.95,87.0 L455.50,86.3 L456.05,86.7 L456.60,87.8 L457.15,86.0 L457.70,86.0 L458.25,85.8 L458.80,85.3 L459.35,85.6 L459.90,86.8 L460.45,86.2 L461.00,85.6 L461.55,85.8 L462.10,86.9 L462.65,86.2 L463.20,86.4 L463.75,86.8 L464.30,87.3 L464.85,87.7 L465.40,87.2 L465.95,86.7 L466.50,86.7 L467.05,87.6 L467.60,87.4 L468.15,86.4 L468.70,86.9 L469.25,86.8 L469.80,86.6 L470.35,86.3 L470.90,85.9 L471.45,86.3 L472.00,85.8 L472.55,87.3 L473.10,86.9 L473.65,85.9 L474.20,87.4 L474.75,87.1 L475.30,85.6 L475.85,87.6 L476.40,87.0 L476.95,87.7 L477.50,85.9 L478.05,86.9 L478.60,86.8 L479.15,86.7 L479.70,86.7 L480.25,87.2 L480.80,85.8 L481.35,85.9 L481.90,85.8 L482.45,86.3 L483.00,86.3 L483.55,86.8 L484.10,86.7 L484.65,86.6 L485.20,86.2 L485.75,86.4 L486.30,87.1 L486.85,87.0 L487.40,86.7 L487.95,86.4 L488.50,87.5 L489.05,86.3 L489.60,87.0 L490.15,87.2 L490.70,86.5 L491.25,87.1 L491.80,86.0 L492.35,87.2 L492.90,86.7 L493.45,85.7 L494.00,87.0 L494.55,86.1 L495.10,87.3 L495.65,86.2 L496.20,86.5 L496.75,86.8 L497.30,86.4 L497.85,86.7 L498.40,86.3 L498.95,87.0 L499.50,86.6 L500.05,86.7 L500.60,85.1 L501.15,87.2 L501.70,86.6 L502.25,85.6 L502.80,86.7 L503.35,86.9 L503.90,87.2 L504.45,86.0 L505.00,87.5 L505.55,86.5 L506.10,87.9 L506.65,86.5 L507.20,87.0 L507.75,86.4 L508.30,86.0 L508.85,87.2 L509.40,87.1 L509.95,87.4 L510.50,87.1 L511.05,86.3 L511.60,85.7 L512.15,86.2 L512.70,86.2 L513.25,86.2 L513.80,86.9 L514.35,86.8 L514.90,86.5 L515.45,86.7 L516.00,86.5 L516.55,86.7 L517.10,87.0 L517.65,87.1 L518.20,86.2 L518.75,85.8 L519.30,87.4 L519.85,86.7 L520.40,87.2 L520.95,85.7 L521.50,86.4 L522.05,86.6 L522.60,85.8 L523.15,86.3 L523.70,87.0 L524.25,87.2 L524.80,87.5 L525.35,86.1 L525.90,85.8 L526.45,86.9 L527.00,87.1 L527.55,86.7 L528.10,85.9 L528.65,87.0 L529.20,87.0 L529.75,86.9 L530.30,86.3" fill="none" stroke="#000" stroke-width="1.15"/>
<path d="M370.80,89.0 L371.35,89.3 L371.90,88.5 L372.45,87.9 L373.00,89.1 L373.55,89.2 L374.10,88.9 L374.65,89.4 L375.20,88.6 L375.75,88.9 L376.30,88.8 L376.85,89.3 L377.40,89.9 L377.95,88.8 L378.50,90.1 L379.05,89.8 L379.60,89.4 L380.15,89.3 L380.70,90.0 L381.25,88.9 L381.80,89.0 L382.35,88.4 L382.90,89.3 L383.45,89.8 L384.00,89.3 L384.55,89.3 L385.10,88.9 L385.65,89.1 L386.20,88.3 L386.75,89.6 L387.30,88.8 L387.85,88.5 L388.40,88.7 L388.95,88.6 L389.50,89.5 L390.05,89.7 L390.60,88.3 L391.15,89.6 L391.70,89.6 L392.25,88.8 L392.80,88.3 L393.35,88.7 L393.90,88.7 L394.45,89.3 L395.00,88.9 L395.55,88.0 L396.10,89.2 L396.65,88.3 L397.20,89.6 L397.75,88.4 L398.30,88.7 L398.85,88.6 L399.40,88.8 L399.95,89.8 L400.50,89.6 L401.05,89.5 L401.60,89.3 L402.15,88.3 L402.70,88.8 L403.25,88.8 L403.80,88.6 L404.35,89.4 L404.90,88.7 L405.45,88.8 L406.00,88.6 L406.55,88.0 L407.10,89.5 L407.65,89.9 L408.20,89.2 L408.75,88.6 L409.30,87.7 L409.85,89.3 L410.40,89.8 L410.95,89.3 L411.50,89.7 L412.05,90.0 L412.60,89.8 L413.15,88.9 L413.70,89.8 L414.25,89.6 L414.80,88.3 L415.35,89.0 L415.90,88.4 L416.45,89.1 L417.00,89.5 L417.55,88.6 L418.10,88.1 L418.65,89.9 L419.20,89.4 L419.75,90.0 L420.30,88.5 L420.85,89.8 L421.40,90.3 L421.95,90.3 L422.50,89.1 L423.05,89.4 L423.60,89.1 L424.15,89.8 L424.70,89.8 L425.25,89.3 L425.80,88.5 L426.35,89.6 L426.90,89.0 L427.45,89.6 L428.00,89.4 L428.55,90.1 L429.10,89.9 L429.65,89.0 L430.20,89.5 L430.75,90.2 L431.30,89.0 L431.85,89.5 L432.40,89.9 L432.95,90.0 L433.50,89.6 L434.05,88.6 L434.60,88.6 L435.15,89.4 L435.70,89.5 L436.25,90.7 L436.80,88.8 L437.35,89.9 L437.90,89.7 L438.45,88.4 L439.00,88.9 L439.55,89.4 L440.10,89.1 L440.65,89.2 L441.20,89.6 L441.75,88.9 L442.30,89.6 L442.85,89.0 L443.40,89.0 L443.95,89.6 L444.50,89.0 L445.05,89.5 L445.60,90.2 L446.15,89.4 L446.70,89.3 L447.25,89.8 L447.80,89.2 L448.35,90.0 L448.90,88.7 L449.45,89.7 L450.00,89.1 L450.55,88.9 L451.10,90.4 L451.65,88.9 L452.20,90.4 L452.75,89.8 L453.30,90.2 L453.85,88.9 L454.40,90.1 L454.95,90.2 L455.50,89.4 L456.05,89.3 L456.60,90.8 L457.15,89.5 L457.70,89.2 L458.25,89.1 L458.80,89.7 L459.35,89.6 L459.90,89.5 L460.45,90.4 L461.00,89.3 L461.55,89.7 L462.10,90.3 L462.65,88.9 L463.20,90.0 L463.75,90.5 L464.30,88.7 L464.85,88.9 L465.40,88.9 L465.95,88.5 L466.50,89.7 L467.05,88.5 L467.60,89.8 L468.15,90.3 L468.70,88.6 L469.25,89.3 L469.80,88.5 L470.35,89.9 L470.90,89.1 L471.45,89.4 L472.00,89.5 L472.55,89.8 L473.10,89.3 L473.65,89.5 L474.20,89.2 L474.75,89.6 L475.30,88.9 L475.85,89.6 L476.40,88.5 L476.95,89.3 L477.50,90.6 L478.05,89.6 L478.60,88.9 L479.15,89.7 L479.70,89.0 L480.25,88.7 L480.80,89.2 L481.35,90.0 L481.90,89.8 L482.45,89.5 L483.00,89.1 L483.55,89.0 L484.10,90.3 L484.65,89.7 L485.20,89.1 L485.75,88.4 L486.30,88.9 L486.85,91.0 L487.40,89.0 L487.95,89.6 L488.50,89.7 L489.05,89.5 L489.60,89.5 L490.15,88.9 L490.70,89.1 L491.25,90.6 L491.80,89.2 L492.35,90.1 L492.90,88.7 L493.45,89.5 L494.00,89.8 L494.55,90.2 L495.10,89.0 L495.65,90.0 L496.20,89.9 L496.75,89.3 L497.30,89.9 L497.85,89.2 L498.40,89.2 L498.95,89.7 L499.50,88.2 L500.05,89.6 L500.60,89.1 L501.15,88.9 L501.70,89.5 L502.25,90.1 L502.80,89.5 L503.35,90.4 L503.90,89.1 L504.45,89.0 L505.00,90.6 L505.55,89.9 L506.10,90.2 L506.65,89.3 L507.20,90.2 L507.75,89.9 L508.30,90.1 L508.85,89.8 L509.40,90.4 L509.95,89.4 L510.50,89.2 L511.05,88.9 L511.60,90.4 L512.15,89.4 L512.70,89.2 L513.25,89.3 L513.80,89.5 L514.35,89.1 L514.90,89.6 L515.45,89.4 L516.00,89.5 L516.55,89.3 L517.10,89.8 L517.65,89.5" fill="none" stroke="#000" stroke-width="1.15"/>
<path d="M370.80,91.1 L371.35,91.2 L371.90,91.2 L372.45,89.8 L373.00,90.8 L373.55,90.6 L374.10,91.5 L374.65,90.2 L375.20,90.7 L375.75,90.9 L376.30,90.9 L376.85,91.7 L377.40,90.9 L377.95,91.6 L378.50,90.3 L379.05,90.1 L379.60,91.8 L380.15,91.4 L380.70,91.4 L381.25,91.2 L381.80,91.4 L382.35,90.5 L382.90,91.7 L383.45,90.9 L384.00,91.7 L384.55,91.2 L385.10,90.1 L385.65,90.5 L386.20,91.8 L386.75,91.1 L387.30,91.0 L387.85,91.3 L388.40,90.9 L388.95,90.9 L389.50,91.2 L390.05,91.3 L390.60,92.0 L391.15,91.2 L391.70,92.2 L392.25,92.2 L392.80,92.1 L393.35,91.8 L393.90,91.3 L394.45,91.3 L395.00,91.1 L395.55,90.8 L396.10,91.2 L396.65,90.8 L397.20,92.1 L397.75,91.5 L398.30,90.9 L398.85,90.1 L399.40,91.2 L399.95,91.0 L400.50,90.6 L401.05,90.6 L401.60,90.0 L402.15,91.5 L402.70,91.2 L403.25,92.6 L403.80,91.2 L404.35,91.1 L404.90,92.0 L405.45,91.3 L406.00,91.3 L406.55,91.0 L407.10,90.9 L407.65,92.0 L408.20,91.7 L408.75,92.1 L409.30,91.0 L409.85,91.2 L410.40,90.7 L410.95,91.7 L411.50,90.4 L412.05,91.5 L412.60,91.8 L413.15,92.0 L413.70,90.7 L414.25,91.8 L414.80,90.8 L415.35,90.8 L415.90,90.5 L416.45,91.8 L417.00,92.1 L417.55,90.9 L418.10,90.8 L418.65,91.0 L419.20,92.6 L419.75,91.8 L420.30,90.9 L420.85,90.2 L421.40,90.8 L421.95,91.9 L422.50,92.2 L423.05,91.1 L423.60,90.8 L424.15,90.9 L424.70,90.2 L425.25,91.7 L425.80,90.6 L426.35,91.8 L426.90,90.3 L427.45,90.5 L428.00,91.4 L428.55,90.8 L429.10,91.7 L429.65,91.2 L430.20,90.6 L430.75,91.6 L431.30,91.7 L431.85,90.2 L432.40,92.3 L432.95,91.5 L433.50,91.7 L434.05,90.2 L434.60,90.9 L435.15,91.1 L435.70,91.9 L436.25,90.5 L436.80,90.8 L437.35,90.2 L437.90,91.2 L438.45,91.5 L439.00,90.4 L439.55,91.0 L440.10,91.6 L440.65,92.2 L441.20,91.7 L441.75,91.1 L442.30,90.7 L442.85,90.8 L443.40,90.9 L443.95,91.4 L444.50,91.3 L445.05,92.2 L445.60,91.5 L446.15,90.7 L446.70,92.2 L447.25,91.9 L447.80,91.4 L448.35,90.9 L448.90,90.3 L449.45,90.8 L450.00,91.8 L450.55,90.9 L451.10,90.6 L451.65,91.5 L452.20,91.5 L452.75,91.7 L453.30,91.7 L453.85,92.1 L454.40,90.9 L454.95,91.9 L455.50,90.8 L456.05,91.8 L456.60,91.5 L457.15,91.5 L457.70,91.9 L458.25,91.4 L458.80,92.0 L459.35,91.9 L459.90,91.5 L460.45,91.1 L461.00,91.0 L461.55,91.1 L462.10,91.3 L462.65,91.4 L463.20,93.0 L463.75,91.8 L464.30,91.8 L464.85,90.9 L465.40,91.0 L465.95,91.2 L466.50,91.5 L467.05,90.9 L467.60,92.3 L468.15,91.1 L468.70,92.0 L469.25,90.1 L469.80,91.4 L470.35,91.6 L470.90,91.5 L471.45,91.8 L472.00,91.6 L472.55,91.5 L473.10,90.4 L473.65,91.1 L474.20,90.2 L474.75,91.8 L475.30,91.6 L475.85,91.4 L476.40,91.0 L476.95,91.1 L477.50,92.5 L478.05,92.4 L478.60,91.4 L479.15,92.2 L479.70,90.6 L480.25,90.4 L480.80,91.2 L481.35,91.0 L481.90,91.2 L482.45,91.6 L483.00,93.2 L483.55,91.1 L484.10,91.5 L484.65,91.7 L485.20,91.5 L485.75,92.0 L486.30,92.5 L486.85,90.8 L487.40,91.6 L487.95,91.4 L488.50,91.7 L489.05,90.7 L489.60,90.6 L490.15,90.3 L490.70,91.8 L491.25,91.6 L491.80,91.6 L492.35,90.2 L492.90,91.3 L493.45,91.1 L494.00,90.8 L494.55,91.0 L495.10,91.9 L495.65,91.9 L496.20,91.5 L496.75,91.8 L497.30,91.2 L497.85,91.6 L498.40,91.6 L498.95,91.9 L499.50,91.5 L500.05,91.5 L500.60,91.5 L501.15,91.2 L501.70,92.8 L502.25,91.9 L502.80,91.8 L503.35,92.9 L503.90,92.4 L504.45,90.7 L505.00,92.0 L505.55,92.1" fill="none" stroke="#000" stroke-width="1.15"/>
<path d="M370.80,94.1 L371.35,93.8 L371.90,93.5 L372.45,92.5 L373.00,92.7 L373.55,93.4 L374.10,93.5 L374.65,92.7 L375.20,93.1 L375.75,93.1 L376.30,93.4 L376.85,93.6 L377.40,93.3 L377.95,92.8 L378.50,94.2 L379.05,94.4 L379.60,93.5 L380.15,94.2 L380.70,93.9 L381.25,94.1 L381.80,94.0 L382.35,93.3 L382.90,94.1 L383.45,94.4 L384.00,93.3 L384.55,94.9 L385.10,95.0 L385.65,94.9 L386.20,95.0 L386.75,94.4 L387.30,93.8 L387.85,93.7 L388.40,93.6 L388.95,94.1 L389.50,94.1 L390.05,94.5 L390.60,93.1 L391.15,95.5 L391.70,95.5 L392.25,94.2 L392.80,94.6 L393.35,94.6 L393.90,94.5 L394.45,94.2 L395.00,94.3 L395.55,93.9 L396.10,94.5 L396.65,94.4 L397.20,94.7 L397.75,94.0 L398.30,94.5 L398.85,94.6 L399.40,94.9 L399.95,94.0 L400.50,94.9 L401.05,95.2 L401.60,95.0 L402.15,94.5 L402.70,94.5 L403.25,94.6 L403.80,95.2 L404.35,95.7 L404.90,94.7 L405.45,94.5 L406.00,95.1 L406.55,95.0 L407.10,94.4 L407.65,94.5 L408.20,94.9 L408.75,95.4 L409.30,94.4 L409.85,94.5 L410.40,95.3 L410.95,94.4 L411.50,95.2 L412.05,95.3 L412.60,95.1 L413.15,94.6 L413.70,95.2 L414.25,95.1 L414.80,95.5 L415.35,94.8 L415.90,95.9 L416.45,94.4 L417.00,95.3 L417.55,95.4 L418.10,95.9 L418.65,95.1 L419.20,95.8 L419.75,95.2 L420.30,95.9 L420.85,96.5 L421.40,95.3 L421.95,95.8 L422.50,95.0 L423.05,96.1 L423.60,96.2 L424.15,95.6 L424.70,94.9 L425.25,95.8 L425.80,96.2 L426.35,96.2 L426.90,96.1 L427.45,94.6 L428.00,95.2 L428.55,96.4 L429.10,95.0 L429.65,96.3 L430.20,96.7 L430.75,96.1 L431.30,96.3 L431.85,95.5 L432.40,95.0 L432.95,95.6 L433.50,95.6 L434.05,95.7 L434.60,96.1 L435.15,95.6 L435.70,95.8 L436.25,96.0 L436.80,95.7 L437.35,96.8 L437.90,96.0 L438.45,95.8 L439.00,95.7 L439.55,95.5 L440.10,96.5 L440.65,95.9 L441.20,95.2 L441.75,95.5 L442.30,95.8 L442.85,95.6 L443.40,96.4 L443.95,95.2 L444.50,96.1 L445.05,96.0 L445.60,95.2 L446.15,95.9 L446.70,95.9 L447.25,96.2 L447.80,95.7 L448.35,96.1 L448.90,95.0 L449.45,95.3 L450.00,96.4 L450.55,96.5 L451.10,96.0 L451.65,95.6 L452.20,96.6 L452.75,94.8 L453.30,95.6 L453.85,96.4 L454.40,96.4 L454.95,95.5 L455.50,95.0 L456.05,96.8 L456.60,96.1 L457.15,95.6 L457.70,96.1 L458.25,96.6 L458.80,94.7 L459.35,96.7 L459.90,96.5 L460.45,95.0 L461.00,96.5 L461.55,95.1 L462.10,96.8 L462.65,96.4 L463.20,97.4 L463.75,95.8 L464.30,96.2 L464.85,96.8 L465.40,95.8 L465.95,95.8 L466.50,96.0 L467.05,96.2 L467.60,95.6 L468.15,96.5 L468.70,96.5 L469.25,96.3 L469.80,97.2 L470.35,96.1 L470.90,97.0 L471.45,96.0 L472.00,96.7 L472.55,95.2 L473.10,96.4 L473.65,96.2 L474.20,96.0 L474.75,96.0 L475.30,96.1 L475.85,95.9 L476.40,95.1 L476.95,96.0 L477.50,96.1 L478.05,96.1 L478.60,95.8 L479.15,96.3 L479.70,96.8 L480.25,96.3 L480.80,96.1 L481.35,97.2 L481.90,97.0 L482.45,96.9 L483.00,97.1 L483.55,96.3 L484.10,96.4 L484.65,97.1 L485.20,96.2 L485.75,96.4 L486.30,96.7 L486.85,96.7 L487.40,96.4 L487.95,97.1 L488.50,96.4 L489.05,96.9 L489.60,97.1 L490.15,96.9 L490.70,97.0 L491.25,95.9 L491.80,95.9 L492.35,96.2 L492.90,96.9" fill="none" stroke="#000" stroke-width="1.15"/>
<path d="M370.80,95.9 L371.35,94.4 L371.90,95.3 L372.45,94.7 L373.00,94.8 L373.55,95.1 L374.10,95.7 L374.65,95.4 L375.20,96.0 L375.75,94.8 L376.30,95.9 L376.85,96.0 L377.40,95.5 L377.95,95.8 L378.50,95.3 L379.05,95.0 L379.60,95.4 L380.15,95.3 L380.70,97.3 L381.25,95.5 L381.80,96.7 L382.35,95.9 L382.90,96.0 L383.45,96.3 L384.00,95.5 L384.55,96.5 L385.10,96.2 L385.65,95.2 L386.20,96.4 L386.75,96.4 L387.30,96.4 L387.85,97.0 L388.40,96.0 L388.95,96.5 L389.50,96.7 L390.05,95.8 L390.60,97.0 L391.15,95.5 L391.70,95.7 L392.25,96.7 L392.80,95.8 L393.35,96.4 L393.90,95.6 L394.45,96.6 L395.00,95.9 L395.55,96.8 L396.10,95.8 L396.65,96.9 L397.20,96.6 L397.75,96.8 L398.30,96.7 L398.85,96.9 L399.40,96.1 L399.95,95.4 L400.50,96.9 L401.05,96.4 L401.60,96.7 L402.15,97.2 L402.70,95.9 L403.25,96.6 L403.80,96.7 L404.35,96.5 L404.90,97.3 L405.45,97.1 L406.00,96.8 L406.55,96.7 L407.10,97.7 L407.65,96.9 L408.20,97.7 L408.75,97.6 L409.30,96.4 L409.85,96.8 L410.40,97.5 L410.95,97.7 L411.50,97.9 L412.05,98.0 L412.60,98.1 L413.15,97.4 L413.70,97.5 L414.25,98.1 L414.80,97.5 L415.35,98.3 L415.90,96.9 L416.45,98.2 L417.00,97.7 L417.55,96.8 L418.10,98.4 L418.65,98.1 L419.20,98.0 L419.75,97.4 L420.30,97.7 L420.85,98.8 L421.40,97.6 L421.95,96.1 L422.50,97.6 L423.05,97.4 L423.60,98.0 L424.15,97.8 L424.70,97.6 L425.25,97.6 L425.80,98.7 L426.35,97.3 L426.90,99.2 L427.45,97.8 L428.00,97.5 L428.55,98.6 L429.10,98.5 L429.65,97.6 L430.20,98.6 L430.75,97.2 L431.30,97.7 L431.85,98.8 L432.40,98.1 L432.95,97.5 L433.50,98.5 L434.05,98.7 L434.60,98.2 L435.15,97.3 L435.70,98.1 L436.25,98.5 L436.80,98.7 L437.35,99.3 L437.90,98.2 L438.45,98.0 L439.00,98.3 L439.55,99.0 L440.10,97.8 L440.65,99.1 L441.20,96.8 L441.75,98.8 L442.30,98.0 L442.85,98.6 L443.40,98.8 L443.95,97.7 L444.50,98.4 L445.05,98.5 L445.60,98.7 L446.15,97.9 L446.70,97.9 L447.25,97.4 L447.80,99.9 L448.35,98.4 L448.90,98.4 L449.45,97.7 L450.00,99.0 L450.55,98.2 L451.10,99.3 L451.65,99.0 L452.20,98.5 L452.75,98.9 L453.30,97.9 L453.85,98.4 L454.40,98.2 L454.95,97.9 L455.50,98.6 L456.05,98.5 L456.60,99.4 L457.15,96.8 L457.70,98.2 L458.25,98.1 L458.80,98.4 L459.35,98.9 L459.90,98.9 L460.45,98.7 L461.00,98.4 L461.55,99.0 L462.10,98.9 L462.65,97.7 L463.20,98.6 L463.75,98.0 L464.30,98.1 L464.85,98.8 L465.40,98.8 L465.95,98.8 L466.50,98.3 L467.05,98.7 L467.60,98.3 L468.15,99.0 L468.70,99.2 L469.25,99.8 L469.80,99.5 L470.35,98.4 L470.90,98.6 L471.45,98.3 L472.00,99.0 L472.55,100.0 L473.10,99.3 L473.65,97.7 L474.20,98.2 L474.75,98.2 L475.30,99.2 L475.85,98.9 L476.40,99.1 L476.95,99.9 L477.50,98.5 L478.05,98.5 L478.60,100.0 L479.15,99.2 L479.70,98.6 L480.25,97.9 L480.80,98.2" fill="none" stroke="#000" stroke-width="1.15"/>
<path d="M370.80,95.9 L371.35,97.4 L371.90,97.5 L372.45,98.1 L373.00,97.4 L373.55,97.1 L374.10,97.2 L374.65,98.8 L375.20,96.6 L375.75,97.8 L376.30,97.8 L376.85,98.2 L377.40,97.6 L377.95,98.2 L378.50,98.4 L379.05,97.9 L379.60,97.7 L380.15,97.9 L380.70,97.5 L381.25,98.0 L381.80,98.0 L382.35,98.3 L382.90,100.2 L383.45,103.5 L384.00,105.8 L384.55,106.7 L385.10,103.3 L385.65,100.4 L386.20,98.5 L386.75,98.7 L387.30,98.2 L387.85,98.1 L388.40,99.1 L388.95,99.4 L389.50,99.1 L390.05,99.0 L390.60,98.9 L391.15,98.5 L391.70,97.7 L392.25,99.2 L392.80,99.0 L393.35,98.6 L393.90,98.4 L394.45,99.7 L395.00,97.9 L395.55,100.1 L396.10,99.5 L396.65,100.5 L397.20,98.7 L397.75,99.2 L398.30,98.9 L398.85,99.3 L399.40,99.2 L399.95,98.9 L400.50,100.0 L401.05,98.9 L401.60,99.1 L402.15,99.8 L402.70,99.2 L403.25,99.2 L403.80,99.8 L404.35,99.4 L404.90,98.9 L405.45,99.6 L406.00,99.5 L406.55,100.7 L407.10,99.1 L407.65,100.4 L408.20,99.3 L408.75,99.6 L409.30,99.7 L409.85,100.1 L410.40,100.5 L410.95,101.0 L411.50,99.6 L412.05,100.8 L412.60,100.7 L413.15,100.6 L413.70,99.7 L414.25,100.7 L414.80,100.1 L415.35,100.4 L415.90,100.1 L416.45,100.7 L417.00,101.0 L417.55,101.0 L418.10,100.3 L418.65,101.0 L419.20,101.3 L419.75,99.9 L420.30,101.4 L420.85,99.7 L421.40,100.9 L421.95,100.9 L422.50,101.5 L423.05,100.7 L423.60,100.3 L424.15,100.1 L424.70,99.9 L425.25,101.1 L425.80,100.5 L426.35,100.2 L426.90,101.0 L427.45,100.2 L428.00,100.4 L428.55,104.0 L429.10,108.9 L429.65,111.8 L430.20,107.2 L430.75,102.8 L431.30,100.9 L431.85,100.8 L432.40,101.0 L432.95,101.2 L433.50,100.6 L434.05,101.4 L434.60,101.4 L435.15,101.0 L435.70,100.6 L436.25,100.6 L436.80,101.3 L437.35,100.3 L437.90,100.8 L438.45,100.5 L439.00,100.1 L439.55,101.3 L440.10,101.0 L440.65,101.0 L441.20,101.6 L441.75,100.1 L442.30,101.0 L442.85,101.2 L443.40,101.6 L443.95,100.4 L444.50,101.5 L445.05,101.3 L445.60,102.0 L446.15,101.8 L446.70,101.5 L447.25,102.5 L447.80,101.2 L448.35,100.9 L448.90,101.0 L449.45,100.7 L450.00,101.2 L450.55,100.1 L451.10,101.2 L451.65,101.5 L452.20,101.9 L452.75,101.1 L453.30,102.2 L453.85,100.9 L454.40,101.3 L454.95,100.2 L455.50,100.9 L456.05,100.9 L456.60,102.3 L457.15,101.7 L457.70,100.8 L458.25,101.8 L458.80,101.7 L459.35,101.3 L459.90,101.5 L460.45,101.3 L461.00,101.2 L461.55,100.5 L462.10,101.5 L462.65,102.3 L463.20,102.4 L463.75,101.4 L464.30,101.2 L464.85,101.5 L465.40,102.2 L465.95,101.8 L466.50,101.3 L467.05,101.9 L467.60,101.6 L468.15,102.0" fill="none" stroke="#000" stroke-width="1.15"/>
<line x1="370.2" y1="79" x2="370.2" y2="115" stroke="#111" stroke-width="1.4"/>
<line x1="370.2" y1="115" x2="370.2" y2="138.8" stroke="#888" stroke-width="1.1"/>
<rect x="367.3" y="75.3" width="3.4" height="3.8" fill="#111"/>
<text x="323.3" y="226.8" font-size="17" font-weight="bold">d</text>
<line x1="359.5" y1="215.5" x2="359.5" y2="372" stroke="#4a4a4a" stroke-width="1"/>
<line x1="355.5" y1="249.5" x2="568" y2="249.5" stroke="#808080" stroke-width="1"/>
<line x1="355.3" y1="249.5" x2="359.5" y2="249.5" stroke="#333" stroke-width="1"/>
<text x="353.8" y="251.7" font-size="9.5" text-anchor="end" stroke="#000" stroke-width="0.25">0</text>
<line x1="355.3" y1="301.5" x2="359.5" y2="301.5" stroke="#333" stroke-width="1"/>
<text x="353.8" y="303.7" font-size="9.5" text-anchor="end" stroke="#000" stroke-width="0.25">-3</text>
<line x1="355.3" y1="353.5" x2="359.5" y2="353.5" stroke="#333" stroke-width="1"/>
<text x="353.8" y="355.7" font-size="9.5" text-anchor="end" stroke="#000" stroke-width="0.25">-6</text>
<line x1="371.3" y1="247.5" x2="371.3" y2="249.5" stroke="#808080" stroke-width="1"/>
<text x="372.3" y="243.7" font-size="9.7" text-anchor="middle" stroke="#000" stroke-width="0.2">0</text>
<line x1="402.2" y1="247.5" x2="402.2" y2="249.5" stroke="#808080" stroke-width="1"/>
<line x1="433.1" y1="247.5" x2="433.1" y2="249.5" stroke="#808080" stroke-width="1"/>
<text x="434.1" y="243.7" font-size="9.7" text-anchor="middle" stroke="#000" stroke-width="0.2">1000</text>
<line x1="464.0" y1="247.5" x2="464.0" y2="249.5" stroke="#808080" stroke-width="1"/>
<line x1="494.9" y1="247.5" x2="494.9" y2="249.5" stroke="#808080" stroke-width="1"/>
<text x="495.9" y="243.7" font-size="9.7" text-anchor="middle" stroke="#000" stroke-width="0.2">2000</text>
<line x1="525.8" y1="247.5" x2="525.8" y2="249.5" stroke="#808080" stroke-width="1"/>
<line x1="556.7" y1="247.5" x2="556.7" y2="249.5" stroke="#808080" stroke-width="1"/>
<text x="557.7" y="243.7" font-size="9.7" text-anchor="middle" stroke="#000" stroke-width="0.2">3000</text>
<text x="458.3" y="229" font-size="14.5" text-anchor="middle">ms</text>
<text transform="translate(335.5,300.3) rotate(-90)" font-size="14.5" text-anchor="middle">pA/pF</text>
<path d="M372.20,254.0 L372.75,253.2 L373.30,254.4 L373.85,254.9 L374.40,253.5 L374.95,254.3 L375.50,255.0 L376.05,254.1 L376.60,253.9 L377.15,255.9 L377.70,255.0 L378.25,255.2 L378.80,253.7 L379.35,255.6 L379.90,253.2 L380.45,254.0 L381.00,255.0 L381.55,255.4 L382.10,253.7 L382.65,253.9 L383.20,254.6 L383.75,253.0 L384.30,254.9 L384.85,254.9 L385.40,254.1 L385.95,254.9 L386.50,255.0 L387.05,254.7 L387.60,254.9 L388.15,255.6 L388.70,254.1 L389.25,254.6 L389.80,254.1 L390.35,255.3 L390.90,254.2 L391.45,254.8 L392.00,254.6 L392.55,254.5 L393.10,255.8 L393.65,254.4 L394.20,255.6 L394.75,255.1 L395.30,255.5 L395.85,254.4 L396.40,255.2 L396.95,255.1 L397.50,254.1 L398.05,254.7 L398.60,254.4 L399.15,254.5 L399.70,255.5 L400.25,254.0 L400.80,253.3 L401.35,253.2 L401.90,254.2 L402.45,254.1 L403.00,254.5 L403.55,255.0 L404.10,255.9 L404.65,254.8 L405.20,254.9 L405.75,254.0 L406.30,255.0 L406.85,255.6 L407.40,255.6 L407.95,253.1 L408.50,255.2 L409.05,255.7 L409.60,255.2 L410.15,253.5 L410.70,254.3 L411.25,255.0 L411.80,254.9 L412.35,254.0 L412.90,253.9 L413.45,255.3 L414.00,253.6 L414.55,255.7 L415.10,254.6 L415.65,254.8 L416.20,253.6 L416.75,254.2 L417.30,255.1 L417.85,253.5 L418.40,256.1 L418.95,253.6 L419.50,253.7 L420.05,254.6 L420.60,255.0 L421.15,255.2 L421.70,254.3 L422.25,254.5 L422.80,254.4 L423.35,254.2 L423.90,252.7 L424.45,255.3 L425.00,254.8 L425.55,254.8 L426.10,254.2 L426.65,254.8 L427.20,254.6 L427.75,254.6 L428.30,255.5 L428.85,253.4 L429.40,254.8 L429.95,253.9 L430.50,254.4 L431.05,255.8 L431.60,253.9 L432.15,254.6 L432.70,254.2 L433.25,255.4 L433.80,253.9 L434.35,253.4 L434.90,255.1 L435.45,254.4 L436.00,254.4 L436.55,255.5 L437.10,254.0 L437.65,254.4 L438.20,254.8 L438.75,255.0 L439.30,254.3 L439.85,255.5 L440.40,256.4 L440.95,254.4 L441.50,256.1 L442.05,253.2 L442.60,255.8 L443.15,254.5 L443.70,254.9 L444.25,254.5 L444.80,254.3 L445.35,253.8 L445.90,254.5 L446.45,255.7 L447.00,255.6 L447.55,254.5 L448.10,254.4 L448.65,254.3 L449.20,253.9 L449.75,256.2 L450.30,255.3 L450.85,254.9 L451.40,254.5 L451.95,254.1 L452.50,255.8 L453.05,255.5 L453.60,254.2 L454.15,255.6 L454.70,254.1 L455.25,255.4 L455.80,254.2 L456.35,254.6 L456.90,255.3 L457.45,255.3 L458.00,255.7 L458.55,254.3 L459.10,256.1 L459.65,256.0 L460.20,255.0 L460.75,255.3 L461.30,254.4 L461.85,254.9 L462.40,254.0 L462.95,255.1 L463.50,255.2 L464.05,256.0 L464.60,255.7 L465.15,255.6 L465.70,254.8 L466.25,254.9 L466.80,254.8 L467.35,255.2 L467.90,253.6 L468.45,255.6 L469.00,253.9 L469.55,254.7 L470.10,255.1 L470.65,254.7 L471.20,256.3 L471.75,255.1 L472.30,256.3 L472.85,256.0 L473.40,254.8 L473.95,255.4 L474.50,256.1 L475.05,254.9 L475.60,255.2 L476.15,254.8 L476.70,255.2 L477.25,254.9 L477.80,255.3 L478.35,256.0 L478.90,256.2 L479.45,255.3 L480.00,255.4 L480.55,255.9 L481.10,255.0 L481.65,254.5 L482.20,256.1 L482.75,254.6 L483.30,256.0 L483.85,254.6 L484.40,256.6 L484.95,254.5 L485.50,255.9 L486.05,256.4 L486.60,254.6 L487.15,256.4 L487.70,254.7 L488.25,254.0 L488.80,255.9 L489.35,255.9 L489.90,255.2 L490.45,253.5 L491.00,255.3 L491.55,255.2 L492.10,255.1 L492.65,255.2 L493.20,254.1 L493.75,255.0 L494.30,256.8 L494.85,256.6 L495.40,255.2 L495.95,254.9 L496.50,255.7 L497.05,256.2 L497.60,256.0 L498.15,254.6 L498.70,255.6 L499.25,255.6 L499.80,256.6 L500.35,256.4 L500.90,255.9 L501.45,256.4 L502.00,255.2 L502.55,256.7 L503.10,255.2 L503.65,255.9 L504.20,256.3 L504.75,254.9 L505.30,255.1 L505.85,254.3 L506.40,255.8 L506.95,255.6 L507.50,255.4 L508.05,256.0 L508.60,254.1 L509.15,255.7 L509.70,255.8 L510.25,255.5 L510.80,256.3 L511.35,257.0 L511.90,255.4 L512.45,255.1 L513.00,255.3 L513.55,255.9 L514.10,256.2 L514.65,255.2 L515.20,256.6 L515.75,255.1 L516.30,256.5 L516.85,256.2 L517.40,256.2 L517.95,257.5 L518.50,255.7 L519.05,255.8 L519.60,256.3 L520.15,256.6 L520.70,254.9 L521.25,256.1 L521.80,255.4 L522.35,256.4 L522.90,257.0 L523.45,256.0 L524.00,255.9 L524.55,256.1 L525.10,253.8 L525.65,256.6 L526.20,256.5 L526.75,256.2 L527.30,255.8 L527.85,255.5 L528.40,256.0 L528.95,257.0 L529.50,256.0 L530.05,257.1 L530.60,254.2 L531.15,255.8 L531.70,256.4 L532.25,256.2 L532.80,255.0 L533.35,255.7 L533.90,257.1 L534.45,255.3 L535.00,255.5 L535.55,255.4 L536.10,255.8 L536.65,256.7 L537.20,256.7 L537.75,254.8 L538.30,257.4 L538.85,255.9 L539.40,255.9 L539.95,257.6 L540.50,256.3 L541.05,255.4 L541.60,255.9 L542.15,255.8 L542.70,255.6 L543.25,256.2 L543.80,257.1 L544.35,256.7 L544.90,255.4 L545.45,258.5 L546.00,255.7 L546.55,256.6 L547.10,256.5 L547.65,257.1 L548.20,256.3 L548.75,256.9 L549.30,258.1 L549.85,256.6 L550.40,255.8 L550.95,256.8 L551.50,256.0 L552.05,256.3 L552.60,256.7 L553.15,256.9 L553.70,256.4 L554.25,257.3 L554.80,256.5 L555.35,255.7 L555.90,257.3 L556.45,256.4 L557.00,257.6 L557.55,256.2 L558.10,257.1 L558.65,257.0 L559.20,254.7 L559.75,255.6 L560.30,255.9 L560.85,257.8 L561.40,255.4 L561.95,257.5 L562.50,257.6 L563.05,257.2 L563.60,257.3 L564.15,256.5 L564.70,256.8 L565.25,257.0 L565.80,257.2 L566.35,257.4 L566.90,256.7 L567.45,256.4 L568.00,256.5 L568.55,257.2" fill="none" stroke="#000" stroke-width="1.0"/>
<path d="M372.20,253.8 L372.75,254.2 L373.30,254.9 L373.85,254.9 L374.40,255.1 L374.95,253.4 L375.50,255.2 L376.05,255.3 L376.60,256.1 L377.15,254.1 L377.70,255.4 L378.25,256.0 L378.80,256.0 L379.35,256.6 L379.90,256.5 L380.45,255.0 L381.00,256.3 L381.55,255.6 L382.10,255.2 L382.65,257.0 L383.20,255.4 L383.75,255.3 L384.30,255.6 L384.85,255.3 L385.40,256.7 L385.95,256.3 L386.50,257.0 L387.05,256.3 L387.60,255.6 L388.15,256.8 L388.70,255.6 L389.25,255.8 L389.80,256.0 L390.35,256.2 L390.90,257.1 L391.45,255.7 L392.00,256.5 L392.55,256.2 L393.10,255.3 L393.65,255.5 L394.20,256.1 L394.75,256.6 L395.30,256.6 L395.85,256.7 L396.40,256.4 L396.95,256.0 L397.50,256.7 L398.05,255.7 L398.60,255.4 L399.15,256.2 L399.70,255.4 L400.25,256.1 L400.80,256.0 L401.35,256.1 L401.90,256.5 L402.45,256.0 L403.00,256.3 L403.55,255.3 L404.10,256.7 L404.65,256.0 L405.20,257.0 L405.75,254.6 L406.30,256.1 L406.85,257.0 L407.40,255.0 L407.95,256.6 L408.50,257.0 L409.05,257.0 L409.60,255.9 L410.15,257.2 L410.70,257.2 L411.25,256.4 L411.80,257.7 L412.35,257.2 L412.90,257.3 L413.45,257.0 L414.00,257.8 L414.55,257.5 L415.10,258.3 L415.65,257.9 L416.20,257.1 L416.75,257.5 L417.30,258.3 L417.85,257.4 L418.40,258.0 L418.95,258.2 L419.50,257.7 L420.05,256.2 L420.60,258.0 L421.15,258.2 L421.70,258.1 L422.25,257.5 L422.80,259.0 L423.35,258.1 L423.90,257.8 L424.45,257.7 L425.00,258.6 L425.55,257.6 L426.10,257.7 L426.65,260.0 L427.20,259.5 L427.75,259.3 L428.30,259.6 L428.85,259.1 L429.40,257.4 L429.95,259.6 L430.50,259.7 L431.05,259.2 L431.60,257.4 L432.15,259.9 L432.70,260.0 L433.25,258.7 L433.80,259.2 L434.35,259.7 L434.90,259.1 L435.45,260.0 L436.00,259.3 L436.55,259.8 L437.10,259.4 L437.65,258.3 L438.20,258.7 L438.75,261.9 L439.30,259.7 L439.85,260.6 L440.40,260.5 L440.95,260.9 L441.50,260.1 L442.05,259.2 L442.60,259.7 L443.15,258.3 L443.70,259.6 L444.25,260.4 L444.80,258.2 L445.35,260.0 L445.90,260.5 L446.45,260.8 L447.00,259.2 L447.55,259.4 L448.10,258.5 L448.65,259.2 L449.20,260.4 L449.75,261.5 L450.30,259.2 L450.85,261.1 L451.40,260.4 L451.95,259.7 L452.50,261.7 L453.05,258.2 L453.60,260.1 L454.15,260.3 L454.70,261.8 L455.25,261.6 L455.80,261.9 L456.35,260.4 L456.90,261.0 L457.45,261.3 L458.00,260.7 L458.55,260.6 L459.10,260.2 L459.65,260.1 L460.20,259.5 L460.75,261.9 L461.30,260.1 L461.85,258.9 L462.40,260.7 L462.95,260.5 L463.50,260.7 L464.05,261.9 L464.60,260.5 L465.15,260.4 L465.70,260.1 L466.25,260.6 L466.80,260.3 L467.35,260.8 L467.90,263.1 L468.45,261.0 L469.00,260.1 L469.55,262.2 L470.10,261.5 L470.65,261.4 L471.20,261.4 L471.75,261.5 L472.30,261.4 L472.85,262.0 L473.40,261.7 L473.95,262.0 L474.50,260.6 L475.05,261.0 L475.60,260.5 L476.15,261.8 L476.70,261.7 L477.25,260.7 L477.80,261.6 L478.35,263.1 L478.90,262.1 L479.45,260.3 L480.00,261.1 L480.55,261.7 L481.10,261.2 L481.65,261.6 L482.20,262.2 L482.75,261.6 L483.30,260.5 L483.85,261.9 L484.40,261.3 L484.95,261.5 L485.50,261.0 L486.05,260.4 L486.60,260.5 L487.15,261.2 L487.70,260.7 L488.25,259.5 L488.80,262.4 L489.35,260.7 L489.90,261.1 L490.45,262.0 L491.00,259.8 L491.55,262.7 L492.10,261.1 L492.65,262.2 L493.20,261.4 L493.75,262.0 L494.30,261.9 L494.85,261.8 L495.40,260.4 L495.95,260.7 L496.50,261.8 L497.05,262.9 L497.60,261.5 L498.15,262.3 L498.70,262.1 L499.25,262.3 L499.80,262.7 L500.35,260.9 L500.90,262.3 L501.45,261.9 L502.00,261.9 L502.55,261.5 L503.10,261.6 L503.65,261.4 L504.20,261.4 L504.75,264.1 L505.30,263.6 L505.85,262.3 L506.40,262.9 L506.95,261.6 L507.50,260.3 L508.05,261.1 L508.60,262.6 L509.15,263.6 L509.70,262.5 L510.25,261.8 L510.80,262.4 L511.35,261.9 L511.90,261.6 L512.45,262.5 L513.00,262.4 L513.55,262.1 L514.10,262.1 L514.65,262.1 L515.20,263.0 L515.75,263.9 L516.30,262.7 L516.85,264.6 L517.40,261.7 L517.95,263.2 L518.50,262.1 L519.05,262.9 L519.60,263.1 L520.15,263.5 L520.70,264.0 L521.25,262.7 L521.80,262.3 L522.35,263.1 L522.90,263.5 L523.45,262.8 L524.00,264.0 L524.55,264.6 L525.10,262.3 L525.65,263.7 L526.20,264.2 L526.75,262.0 L527.30,263.6 L527.85,263.3 L528.40,262.5 L528.95,264.6 L529.50,263.8 L530.05,263.3 L530.60,264.0 L531.15,264.2 L531.70,264.3 L532.25,264.2 L532.80,264.1 L533.35,262.9 L533.90,263.5 L534.45,264.0 L535.00,261.8 L535.55,265.5 L536.10,263.7 L536.65,263.2 L537.20,262.7 L537.75,264.2 L538.30,264.1 L538.85,263.7 L539.40,263.8 L539.95,263.5 L540.50,263.6 L541.05,264.2 L541.60,263.8 L542.15,264.8 L542.70,264.2 L543.25,264.5 L543.80,264.7 L544.35,265.4 L544.90,264.9 L545.45,264.7 L546.00,264.4 L546.55,263.9 L547.10,264.3 L547.65,265.1 L548.20,264.8 L548.75,264.4 L549.30,263.7 L549.85,263.6 L550.40,265.0 L550.95,265.5 L551.50,265.1 L552.05,263.8 L552.60,264.7 L553.15,265.1 L553.70,264.2 L554.25,265.2 L554.80,264.8 L555.35,264.4 L555.90,264.1 L556.45,265.6" fill="none" stroke="#000" stroke-width="1.0"/>
<path d="M372.20,264.3 L372.75,263.4 L373.30,263.5 L373.85,265.1 L374.40,265.0 L374.95,264.4 L375.50,266.0 L376.05,264.7 L376.60,264.1 L377.15,266.0 L377.70,265.1 L378.25,265.6 L378.80,265.5 L379.35,264.7 L379.90,264.7 L380.45,265.6 L381.00,266.9 L381.55,265.1 L382.10,267.1 L382.65,266.3 L383.20,265.3 L383.75,266.5 L384.30,266.8 L384.85,265.7 L385.40,264.8 L385.95,266.8 L386.50,265.7 L387.05,267.1 L387.60,265.2 L388.15,266.7 L388.70,266.3 L389.25,265.8 L389.80,266.8 L390.35,267.2 L390.90,266.7 L391.45,266.3 L392.00,267.4 L392.55,265.9 L393.10,267.8 L393.65,267.8 L394.20,268.8 L394.75,268.2 L395.30,267.9 L395.85,267.8 L396.40,267.7 L396.95,266.7 L397.50,268.9 L398.05,268.2 L398.60,267.6 L399.15,267.0 L399.70,269.1 L400.25,268.4 L400.80,267.1 L401.35,268.6 L401.90,269.6 L402.45,268.1 L403.00,268.5 L403.55,267.8 L404.10,267.7 L404.65,269.1 L405.20,270.7 L405.75,268.4 L406.30,268.3 L406.85,269.1 L407.40,268.2 L407.95,269.1 L408.50,269.3 L409.05,267.9 L409.60,267.9 L410.15,268.7 L410.70,269.5 L411.25,269.1 L411.80,270.0 L412.35,267.9 L412.90,269.5 L413.45,268.6 L414.00,269.3 L414.55,269.5 L415.10,268.5 L415.65,269.2 L416.20,268.5 L416.75,269.7 L417.30,268.8 L417.85,269.2 L418.40,269.8 L418.95,269.2 L419.50,270.7 L420.05,269.3 L420.60,270.5 L421.15,270.1 L421.70,269.1 L422.25,269.8 L422.80,269.4 L423.35,269.8 L423.90,269.9 L424.45,271.6 L425.00,269.9 L425.55,271.5 L426.10,270.7 L426.65,269.3 L427.20,268.6 L427.75,271.0 L428.30,268.9 L428.85,271.1 L429.40,271.4 L429.95,271.0 L430.50,270.5 L431.05,270.5 L431.60,271.0 L432.15,270.6 L432.70,270.4 L433.25,270.6 L433.80,271.9 L434.35,270.5 L434.90,271.4 L435.45,270.2 L436.00,270.6 L436.55,270.1 L437.10,271.1 L437.65,271.8 L438.20,271.6 L438.75,271.0 L439.30,271.9 L439.85,271.2 L440.40,271.8 L440.95,271.7 L441.50,272.0 L442.05,269.6 L442.60,270.5 L443.15,272.2 L443.70,271.5 L444.25,273.4 L444.80,271.5 L445.35,271.3 L445.90,272.9 L446.45,272.2 L447.00,273.3 L447.55,272.2 L448.10,271.7 L448.65,272.4 L449.20,271.3 L449.75,271.6 L450.30,271.5 L450.85,271.8 L451.40,272.6 L451.95,271.6 L452.50,272.3 L453.05,271.7 L453.60,272.8 L454.15,269.9 L454.70,272.0 L455.25,272.3 L455.80,271.3 L456.35,273.0 L456.90,272.4 L457.45,273.3 L458.00,273.0 L458.55,272.8 L459.10,272.2 L459.65,271.5 L460.20,272.2 L460.75,272.0 L461.30,272.6 L461.85,272.1 L462.40,274.9 L462.95,271.2 L463.50,273.5 L464.05,272.2 L464.60,272.4 L465.15,273.3 L465.70,272.6 L466.25,271.7 L466.80,273.0 L467.35,272.5 L467.90,271.1 L468.45,272.9 L469.00,271.9 L469.55,272.2 L470.10,273.2 L470.65,273.1 L471.20,272.6 L471.75,274.6 L472.30,273.2 L472.85,272.4 L473.40,273.1 L473.95,272.9 L474.50,271.2 L475.05,271.7 L475.60,271.9 L476.15,274.7 L476.70,272.9 L477.25,272.9 L477.80,272.7 L478.35,273.9 L478.90,273.2 L479.45,274.5 L480.00,273.8 L480.55,274.5 L481.10,273.1 L481.65,273.6 L482.20,272.9 L482.75,273.2 L483.30,271.9 L483.85,272.9 L484.40,272.6 L484.95,272.9 L485.50,274.4 L486.05,273.6 L486.60,274.4 L487.15,274.2 L487.70,274.2 L488.25,274.3 L488.80,273.1 L489.35,274.2 L489.90,273.3 L490.45,273.2 L491.00,274.6 L491.55,275.4 L492.10,272.9 L492.65,275.1 L493.20,274.4 L493.75,273.1 L494.30,274.0 L494.85,274.1 L495.40,274.1 L495.95,273.5 L496.50,272.8 L497.05,273.9 L497.60,274.6 L498.15,274.5 L498.70,274.5 L499.25,274.8 L499.80,273.2 L500.35,274.0 L500.90,274.3 L501.45,274.9 L502.00,274.2 L502.55,274.5 L503.10,274.3 L503.65,275.8 L504.20,272.5 L504.75,274.2 L505.30,276.2 L505.85,274.5 L506.40,272.9 L506.95,274.4 L507.50,273.2 L508.05,273.9 L508.60,274.6 L509.15,275.8 L509.70,274.9 L510.25,275.0 L510.80,275.4 L511.35,274.7 L511.90,273.9 L512.45,274.5 L513.00,274.9 L513.55,274.5 L514.10,274.2 L514.65,274.5 L515.20,273.6 L515.75,274.0 L516.30,274.8 L516.85,274.6 L517.40,274.9 L517.95,276.0 L518.50,275.2 L519.05,274.9 L519.60,274.1 L520.15,274.2 L520.70,275.4 L521.25,274.4 L521.80,275.5 L522.35,274.3 L522.90,275.3 L523.45,275.1 L524.00,276.0 L524.55,274.9 L525.10,275.0 L525.65,275.5 L526.20,275.4 L526.75,276.7 L527.30,275.2 L527.85,275.0 L528.40,275.2 L528.95,275.9 L529.50,275.7 L530.05,276.1 L530.60,274.5 L531.15,277.6 L531.70,277.1 L532.25,275.6 L532.80,274.7 L533.35,275.8 L533.90,276.1 L534.45,274.0 L535.00,275.8 L535.55,274.6 L536.10,276.2 L536.65,277.0 L537.20,276.7 L537.75,274.7 L538.30,277.1 L538.85,276.7 L539.40,275.7 L539.95,276.4 L540.50,277.3 L541.05,275.8 L541.60,276.1 L542.15,275.7 L542.70,277.1 L543.25,274.5 L543.80,277.3" fill="none" stroke="#000" stroke-width="1.0"/>
<path d="M372.20,264.9 L372.75,266.8 L373.30,265.1 L373.85,266.0 L374.40,266.6 L374.95,268.1 L375.50,266.5 L376.05,268.6 L376.60,267.9 L377.15,269.7 L377.70,268.7 L378.25,269.6 L378.80,269.4 L379.35,271.2 L379.90,269.8 L380.45,270.3 L381.00,272.2 L381.55,270.9 L382.10,271.6 L382.65,270.7 L383.20,271.7 L383.75,269.9 L384.30,272.0 L384.85,271.7 L385.40,271.2 L385.95,271.5 L386.50,273.7 L387.05,273.3 L387.60,271.9 L388.15,274.8 L388.70,273.0 L389.25,273.4 L389.80,274.0 L390.35,273.1 L390.90,272.9 L391.45,273.7 L392.00,275.4 L392.55,275.4 L393.10,273.5 L393.65,275.9 L394.20,275.1 L394.75,275.6 L395.30,275.4 L395.85,275.8 L396.40,274.8 L396.95,275.0 L397.50,275.3 L398.05,275.6 L398.60,276.5 L399.15,275.2 L399.70,277.5 L400.25,275.9 L400.80,276.0 L401.35,277.1 L401.90,277.0 L402.45,276.5 L403.00,276.0 L403.55,276.1 L404.10,275.8 L404.65,278.0 L405.20,278.1 L405.75,278.8 L406.30,277.8 L406.85,277.7 L407.40,278.2 L407.95,278.4 L408.50,277.5 L409.05,278.1 L409.60,279.6 L410.15,276.7 L410.70,277.0 L411.25,277.4 L411.80,278.9 L412.35,279.3 L412.90,278.1 L413.45,279.0 L414.00,278.5 L414.55,278.9 L415.10,278.3 L415.65,278.8 L416.20,278.9 L416.75,279.8 L417.30,280.8 L417.85,277.6 L418.40,279.5 L418.95,279.2 L419.50,280.0 L420.05,280.2 L420.60,280.0 L421.15,280.1 L421.70,278.7 L422.25,278.2 L422.80,280.9 L423.35,280.6 L423.90,279.0 L424.45,280.8 L425.00,280.4 L425.55,277.9 L426.10,280.6 L426.65,279.2 L427.20,281.0 L427.75,279.5 L428.30,279.5 L428.85,279.0 L429.40,280.1 L429.95,281.1 L430.50,279.8 L431.05,278.9 L431.60,282.1 L432.15,281.9 L432.70,281.0 L433.25,280.1 L433.80,279.6 L434.35,279.3 L434.90,281.1 L435.45,281.7 L436.00,279.9 L436.55,280.8 L437.10,280.6 L437.65,280.7 L438.20,281.3 L438.75,282.6 L439.30,280.5 L439.85,281.7 L440.40,281.9 L440.95,280.8 L441.50,281.0 L442.05,280.0 L442.60,282.0 L443.15,280.7 L443.70,280.6 L444.25,281.2 L444.80,280.5 L445.35,280.4 L445.90,281.0 L446.45,282.4 L447.00,281.1 L447.55,281.7 L448.10,280.1 L448.65,279.8 L449.20,282.8 L449.75,281.0 L450.30,280.1 L450.85,281.3 L451.40,281.9 L451.95,280.0 L452.50,280.7 L453.05,281.6 L453.60,280.7 L454.15,282.1 L454.70,282.2 L455.25,281.8 L455.80,281.2 L456.35,281.5 L456.90,281.0 L457.45,281.4 L458.00,281.8 L458.55,281.3 L459.10,282.4 L459.65,283.7 L460.20,281.2 L460.75,281.9 L461.30,282.3 L461.85,282.2 L462.40,281.5 L462.95,281.3 L463.50,282.5 L464.05,282.2 L464.60,282.1 L465.15,281.1 L465.70,282.2 L466.25,282.4 L466.80,281.6 L467.35,282.3 L467.90,283.5 L468.45,280.3 L469.00,282.3 L469.55,280.9 L470.10,280.7 L470.65,281.6 L471.20,282.2 L471.75,281.9 L472.30,280.9 L472.85,280.7 L473.40,281.4 L473.95,281.9 L474.50,281.2 L475.05,280.7 L475.60,283.3 L476.15,281.2 L476.70,281.8 L477.25,281.5 L477.80,281.4 L478.35,282.0 L478.90,281.7 L479.45,282.4 L480.00,281.0 L480.55,280.8 L481.10,283.5 L481.65,281.9 L482.20,282.6 L482.75,282.9 L483.30,282.4 L483.85,282.0 L484.40,280.8 L484.95,280.7 L485.50,282.8 L486.05,282.6 L486.60,282.5 L487.15,280.7 L487.70,280.3 L488.25,281.2 L488.80,281.1 L489.35,282.2 L489.90,281.3 L490.45,283.3 L491.00,281.6 L491.55,281.6 L492.10,282.8 L492.65,282.4 L493.20,281.4 L493.75,282.8 L494.30,283.7 L494.85,281.2 L495.40,281.9 L495.95,281.3 L496.50,280.6 L497.05,282.7 L497.60,282.7 L498.15,282.9 L498.70,282.5 L499.25,280.6 L499.80,282.2 L500.35,281.7 L500.90,281.3 L501.45,281.3 L502.00,282.8 L502.55,282.0 L503.10,283.8 L503.65,282.6 L504.20,280.7 L504.75,283.0 L505.30,283.2 L505.85,282.3 L506.40,281.3 L506.95,283.7 L507.50,281.2 L508.05,282.2 L508.60,280.8 L509.15,281.3 L509.70,280.9 L510.25,283.2 L510.80,283.2 L511.35,282.0 L511.90,281.2 L512.45,282.3 L513.00,282.6 L513.55,281.1 L514.10,281.4 L514.65,282.3 L515.20,282.9 L515.75,282.4 L516.30,282.7 L516.85,281.4 L517.40,280.4 L517.95,282.6 L518.50,281.6 L519.05,282.3 L519.60,282.1 L520.15,282.8 L520.70,281.8 L521.25,283.6 L521.80,282.4 L522.35,282.8 L522.90,282.9 L523.45,283.3 L524.00,282.8 L524.55,281.0 L525.10,281.9 L525.65,283.9 L526.20,282.8 L526.75,282.9 L527.30,282.8 L527.85,282.0 L528.40,281.9 L528.95,282.0 L529.50,283.4 L530.05,282.8 L530.60,283.9 L531.15,282.9 L531.70,284.0" fill="none" stroke="#000" stroke-width="1.0"/>
<path d="M372.20,270.4 L372.75,269.6 L373.30,272.7 L373.85,272.0 L374.40,273.3 L374.95,273.0 L375.50,273.0 L376.05,273.9 L376.60,273.3 L377.15,273.7 L377.70,274.4 L378.25,275.1 L378.80,274.8 L379.35,276.2 L379.90,277.0 L380.45,278.8 L381.00,279.0 L381.55,277.7 L382.10,278.8 L382.65,278.2 L383.20,279.0 L383.75,278.9 L384.30,278.8 L384.85,279.6 L385.40,278.5 L385.95,280.4 L386.50,280.0 L387.05,279.5 L387.60,280.4 L388.15,281.4 L388.70,280.5 L389.25,281.7 L389.80,282.0 L390.35,283.0 L390.90,280.9 L391.45,281.9 L392.00,282.6 L392.55,283.6 L393.10,282.7 L393.65,283.3 L394.20,281.5 L394.75,282.4 L395.30,284.5 L395.85,282.9 L396.40,285.1 L396.95,282.7 L397.50,283.2 L398.05,282.2 L398.60,284.2 L399.15,284.0 L399.70,285.6 L400.25,284.1 L400.80,283.8 L401.35,282.9 L401.90,284.1 L402.45,285.1 L403.00,285.0 L403.55,285.5 L404.10,285.3 L404.65,284.5 L405.20,285.2 L405.75,284.8 L406.30,283.6 L406.85,286.3 L407.40,285.2 L407.95,284.1 L408.50,285.4 L409.05,285.4 L409.60,286.0 L410.15,286.5 L410.70,282.7 L411.25,285.8 L411.80,286.8 L412.35,284.7 L412.90,283.9 L413.45,285.8 L414.00,285.9 L414.55,286.0 L415.10,284.8 L415.65,285.4 L416.20,286.0 L416.75,286.5 L417.30,287.8 L417.85,286.2 L418.40,285.5 L418.95,284.0 L419.50,287.0 L420.05,286.0 L420.60,286.1 L421.15,285.3 L421.70,286.9 L422.25,284.7 L422.80,286.4 L423.35,286.4 L423.90,286.6 L424.45,287.5 L425.00,286.3 L425.55,286.5 L426.10,287.2 L426.65,285.2 L427.20,286.3 L427.75,286.6 L428.30,287.4 L428.85,285.9 L429.40,287.4 L429.95,287.0 L430.50,285.4 L431.05,285.5 L431.60,285.5 L432.15,286.9 L432.70,287.0 L433.25,287.5 L433.80,287.6 L434.35,286.4 L434.90,287.8 L435.45,287.6 L436.00,287.4 L436.55,287.4 L437.10,285.9 L437.65,287.3 L438.20,286.1 L438.75,286.0 L439.30,286.8 L439.85,287.2 L440.40,287.1 L440.95,286.8 L441.50,286.3 L442.05,287.3 L442.60,286.5 L443.15,286.0 L443.70,287.3 L444.25,288.5 L444.80,286.9 L445.35,286.3 L445.90,288.5 L446.45,288.8 L447.00,287.0 L447.55,287.1 L448.10,287.5 L448.65,289.9 L449.20,287.4 L449.75,288.2 L450.30,287.7 L450.85,285.7 L451.40,286.4 L451.95,286.3 L452.50,287.7 L453.05,287.5 L453.60,288.9 L454.15,287.1 L454.70,287.7 L455.25,287.5 L455.80,287.5 L456.35,289.4 L456.90,287.7 L457.45,288.7 L458.00,288.6 L458.55,286.9 L459.10,288.0 L459.65,287.1 L460.20,287.5 L460.75,287.6 L461.30,287.5 L461.85,287.0 L462.40,288.8 L462.95,287.2 L463.50,288.1 L464.05,288.9 L464.60,288.0 L465.15,288.4 L465.70,288.7 L466.25,288.4 L466.80,289.0 L467.35,286.2 L467.90,289.2 L468.45,287.5 L469.00,286.0 L469.55,286.9 L470.10,286.3 L470.65,287.5 L471.20,286.2 L471.75,286.6 L472.30,287.8 L472.85,287.7 L473.40,286.8 L473.95,287.3 L474.50,287.5 L475.05,287.6 L475.60,287.5 L476.15,287.4 L476.70,288.3 L477.25,286.2 L477.80,287.1 L478.35,287.7 L478.90,287.2 L479.45,287.1 L480.00,287.2 L480.55,287.8 L481.10,288.7 L481.65,287.4 L482.20,287.4 L482.75,287.9 L483.30,287.4 L483.85,285.9 L484.40,287.8 L484.95,287.3 L485.50,287.1 L486.05,288.2 L486.60,287.7 L487.15,287.1 L487.70,285.7 L488.25,286.1 L488.80,287.6 L489.35,287.5 L489.90,288.0 L490.45,287.8 L491.00,287.2 L491.55,286.5 L492.10,286.7 L492.65,287.5 L493.20,286.6 L493.75,288.3 L494.30,286.5 L494.85,286.1 L495.40,287.5 L495.95,286.1 L496.50,289.1 L497.05,286.8 L497.60,287.6 L498.15,287.5 L498.70,287.0 L499.25,286.1 L499.80,286.1 L500.35,288.5 L500.90,288.6 L501.45,289.6 L502.00,286.4 L502.55,288.2 L503.10,287.7 L503.65,288.5 L504.20,287.3 L504.75,288.4 L505.30,288.5 L505.85,288.3 L506.40,289.0 L506.95,287.6 L507.50,289.1 L508.05,287.1 L508.60,289.2 L509.15,285.3 L509.70,287.8 L510.25,287.1 L510.80,287.8 L511.35,288.7 L511.90,288.4 L512.45,287.9 L513.00,289.3 L513.55,286.5 L514.10,287.1 L514.65,289.1 L515.20,288.1 L515.75,286.0 L516.30,288.1 L516.85,286.8 L517.40,289.1 L517.95,288.8 L518.50,287.3 L519.05,288.9 L519.60,287.1" fill="none" stroke="#000" stroke-width="1.0"/>
<path d="M372.20,272.8 L372.75,273.6 L373.30,274.0 L373.85,273.8 L374.40,275.7 L374.95,274.9 L375.50,277.2 L376.05,276.9 L376.60,280.3 L377.15,279.1 L377.70,278.5 L378.25,281.8 L378.80,282.3 L379.35,282.1 L379.90,284.9 L380.45,284.3 L381.00,284.2 L381.55,284.0 L382.10,282.5 L382.65,285.9 L383.20,286.8 L383.75,285.8 L384.30,285.4 L384.85,287.0 L385.40,285.9 L385.95,287.7 L386.50,288.7 L387.05,289.6 L387.60,288.8 L388.15,289.0 L388.70,289.8 L389.25,290.6 L389.80,289.3 L390.35,288.7 L390.90,289.3 L391.45,289.1 L392.00,289.6 L392.55,290.4 L393.10,291.0 L393.65,291.0 L394.20,291.1 L394.75,290.9 L395.30,291.7 L395.85,292.2 L396.40,292.2 L396.95,293.0 L397.50,291.5 L398.05,291.7 L398.60,293.5 L399.15,292.3 L399.70,292.6 L400.25,292.0 L400.80,293.2 L401.35,292.1 L401.90,291.6 L402.45,292.5 L403.00,292.3 L403.55,293.5 L404.10,292.5 L404.65,293.0 L405.20,292.7 L405.75,293.3 L406.30,292.4 L406.85,294.0 L407.40,291.8 L407.95,292.8 L408.50,292.5 L409.05,293.7 L409.60,293.2 L410.15,293.6 L410.70,292.9 L411.25,292.6 L411.80,292.3 L412.35,293.0 L412.90,292.8 L413.45,293.6 L414.00,293.6 L414.55,294.2 L415.10,293.2 L415.65,292.7 L416.20,292.4 L416.75,293.4 L417.30,293.7 L417.85,295.1 L418.40,293.5 L418.95,294.9 L419.50,295.0 L420.05,292.5 L420.60,294.5 L421.15,294.4 L421.70,294.6 L422.25,293.4 L422.80,294.2 L423.35,293.0 L423.90,293.3 L424.45,293.4 L425.00,294.9 L425.55,293.2 L426.10,294.2 L426.65,293.4 L427.20,292.7 L427.75,293.6 L428.30,293.9 L428.85,292.7 L429.40,293.9 L429.95,292.7 L430.50,292.5 L431.05,293.5 L431.60,293.1 L432.15,292.4 L432.70,291.8 L433.25,293.3 L433.80,293.5 L434.35,292.9 L434.90,293.4 L435.45,291.9 L436.00,293.6 L436.55,293.6 L437.10,293.5 L437.65,292.7 L438.20,293.3 L438.75,293.3 L439.30,294.1 L439.85,293.4 L440.40,293.4 L440.95,292.6 L441.50,294.0 L442.05,294.3 L442.60,292.8 L443.15,293.9 L443.70,293.6 L444.25,293.3 L444.80,292.2 L445.35,294.9 L445.90,291.8 L446.45,293.7 L447.00,293.1 L447.55,294.5 L448.10,293.1 L448.65,293.6 L449.20,294.1 L449.75,294.0 L450.30,293.1 L450.85,294.2 L451.40,294.0 L451.95,294.5 L452.50,293.2 L453.05,293.7 L453.60,293.4 L454.15,293.0 L454.70,294.0 L455.25,294.2 L455.80,295.1 L456.35,293.6 L456.90,294.2 L457.45,294.9 L458.00,293.8 L458.55,294.0 L459.10,294.1 L459.65,293.4 L460.20,293.1 L460.75,295.0 L461.30,294.2 L461.85,294.0 L462.40,293.0 L462.95,294.2 L463.50,295.2 L464.05,293.2 L464.60,293.4 L465.15,295.2 L465.70,295.5 L466.25,295.6 L466.80,293.8 L467.35,294.8 L467.90,293.7 L468.45,294.8 L469.00,294.1 L469.55,294.6 L470.10,295.6 L470.65,294.7 L471.20,294.3 L471.75,294.5 L472.30,294.7 L472.85,294.1 L473.40,294.7 L473.95,295.1 L474.50,296.0 L475.05,292.8 L475.60,293.6 L476.15,293.6 L476.70,295.5 L477.25,296.9 L477.80,294.9 L478.35,294.9 L478.90,295.8 L479.45,292.7 L480.00,294.7 L480.55,292.1 L481.10,295.0 L481.65,294.5 L482.20,294.5 L482.75,295.2 L483.30,294.5 L483.85,296.0 L484.40,295.0 L484.95,295.4 L485.50,297.3 L486.05,294.7 L486.60,295.9 L487.15,294.4 L487.70,296.2 L488.25,296.0 L488.80,295.3 L489.35,296.1 L489.90,296.6 L490.45,296.5 L491.00,295.3 L491.55,295.3 L492.10,296.3 L492.65,294.1 L493.20,294.8 L493.75,295.8 L494.30,295.8 L494.85,296.7 L495.40,296.4 L495.95,294.9 L496.50,294.8 L497.05,293.0 L497.60,293.8 L498.15,294.0 L498.70,293.3 L499.25,293.4 L499.80,293.6 L500.35,292.0 L500.90,292.1 L501.45,290.9 L502.00,293.2 L502.55,291.8 L503.10,291.7 L503.65,294.3 L504.20,293.9 L504.75,295.4 L505.30,294.7 L505.85,297.3 L506.40,296.0 L506.95,295.5" fill="none" stroke="#000" stroke-width="1.0"/>
<path d="M372.20,276.1 L372.75,277.5 L373.30,280.1 L373.85,282.7 L374.40,281.8 L374.95,282.5 L375.50,285.3 L376.05,286.9 L376.60,285.6 L377.15,287.3 L377.70,287.9 L378.25,290.2 L378.80,291.0 L379.35,290.6 L379.90,290.9 L380.45,293.2 L381.00,291.3 L381.55,294.4 L382.10,294.2 L382.65,296.6 L383.20,296.2 L383.75,295.2 L384.30,295.8 L384.85,296.2 L385.40,296.1 L385.95,297.2 L386.50,298.3 L387.05,296.3 L387.60,297.8 L388.15,299.6 L388.70,299.1 L389.25,297.9 L389.80,298.1 L390.35,298.3 L390.90,297.7 L391.45,300.4 L392.00,299.6 L392.55,299.0 L393.10,298.5 L393.65,299.5 L394.20,299.5 L394.75,301.7 L395.30,299.8 L395.85,300.4 L396.40,301.4 L396.95,301.1 L397.50,300.4 L398.05,298.6 L398.60,301.9 L399.15,301.3 L399.70,300.4 L400.25,300.7 L400.80,300.0 L401.35,300.1 L401.90,299.6 L402.45,301.4 L403.00,301.5 L403.55,301.2 L404.10,301.8 L404.65,301.6 L405.20,301.2 L405.75,300.3 L406.30,301.7 L406.85,302.2 L407.40,301.7 L407.95,302.2 L408.50,300.6 L409.05,300.1 L409.60,302.2 L410.15,300.5 L410.70,301.2 L411.25,300.8 L411.80,301.0 L412.35,300.7 L412.90,300.4 L413.45,299.2 L414.00,302.6 L414.55,301.0 L415.10,299.0 L415.65,300.0 L416.20,299.7 L416.75,300.0 L417.30,298.4 L417.85,301.2 L418.40,302.1 L418.95,300.4 L419.50,301.3 L420.05,301.1 L420.60,299.4 L421.15,301.6 L421.70,298.9 L422.25,299.9 L422.80,300.1 L423.35,301.5 L423.90,300.4 L424.45,300.2 L425.00,299.5 L425.55,300.3 L426.10,300.3 L426.65,300.8 L427.20,301.4 L427.75,300.8 L428.30,300.1 L428.85,299.9 L429.40,301.5 L429.95,300.2 L430.50,300.1 L431.05,301.9 L431.60,301.8 L432.15,301.0 L432.70,300.5 L433.25,300.1 L433.80,301.8 L434.35,300.5 L434.90,302.0 L435.45,300.5 L436.00,301.4 L436.55,301.8 L437.10,301.7 L437.65,301.9 L438.20,302.2 L438.75,300.9 L439.30,301.1 L439.85,302.1 L440.40,304.0 L440.95,302.3 L441.50,301.7 L442.05,302.1 L442.60,302.8 L443.15,304.0 L443.70,302.5 L444.25,303.7 L444.80,303.5 L445.35,303.1 L445.90,302.7 L446.45,303.5 L447.00,303.1 L447.55,304.0 L448.10,301.6 L448.65,303.9 L449.20,303.3 L449.75,302.8 L450.30,303.3 L450.85,302.2 L451.40,299.8 L451.95,301.1 L452.50,301.3 L453.05,300.2 L453.60,299.8 L454.15,301.1 L454.70,301.1 L455.25,300.2 L455.80,300.3 L456.35,300.0 L456.90,299.8 L457.45,300.2 L458.00,301.2 L458.55,298.7 L459.10,299.7 L459.65,301.5 L460.20,300.2 L460.75,300.0 L461.30,300.5 L461.85,298.8 L462.40,298.5 L462.95,298.0 L463.50,298.1 L464.05,299.6 L464.60,300.1 L465.15,298.9 L465.70,298.6 L466.25,299.5 L466.80,299.6 L467.35,299.2 L467.90,297.2 L468.45,298.4 L469.00,296.5 L469.55,299.0 L470.10,298.0 L470.65,298.1 L471.20,300.0 L471.75,299.8 L472.30,299.0 L472.85,298.8 L473.40,298.7 L473.95,297.9 L474.50,298.4 L475.05,300.1 L475.60,297.5 L476.15,297.7 L476.70,298.4 L477.25,299.0 L477.80,298.9 L478.35,297.2 L478.90,298.0 L479.45,297.8 L480.00,296.9 L480.55,298.0 L481.10,297.5 L481.65,298.7 L482.20,298.3 L482.75,297.1 L483.30,297.9 L483.85,297.5 L484.40,297.2 L484.95,297.3 L485.50,298.7 L486.05,297.3 L486.60,296.1 L487.15,296.9 L487.70,298.3 L488.25,299.5 L488.80,296.6 L489.35,297.1 L489.90,296.9 L490.45,295.7 L491.00,297.2 L491.55,296.6 L492.10,296.7 L492.65,298.3 L493.20,295.8 L493.75,296.7 L494.30,296.8 L494.85,295.4" fill="none" stroke="#000" stroke-width="1.0"/>
<path d="M372.20,278.4 L372.75,283.0 L373.30,284.5 L373.85,286.1 L374.40,286.8 L374.95,290.5 L375.50,291.8 L376.05,295.0 L376.60,295.7 L377.15,296.3 L377.70,297.0 L378.25,297.8 L378.80,298.2 L379.35,300.0 L379.90,300.8 L380.45,301.9 L381.00,303.0 L381.55,302.9 L382.10,302.7 L382.65,304.6 L383.20,305.8 L383.75,304.0 L384.30,305.6 L384.85,306.1 L385.40,306.4 L385.95,306.7 L386.50,306.5 L387.05,306.7 L387.60,308.7 L388.15,309.0 L388.70,306.2 L389.25,305.3 L389.80,308.4 L390.35,307.5 L390.90,307.8 L391.45,306.9 L392.00,308.9 L392.55,308.6 L393.10,308.2 L393.65,309.7 L394.20,311.3 L394.75,310.5 L395.30,310.2 L395.85,308.8 L396.40,309.9 L396.95,309.3 L397.50,310.5 L398.05,310.0 L398.60,309.4 L399.15,310.0 L399.70,308.9 L400.25,310.3 L400.80,311.1 L401.35,309.3 L401.90,310.2 L402.45,308.1 L403.00,310.6 L403.55,310.6 L404.10,308.8 L404.65,311.5 L405.20,309.9 L405.75,308.2 L406.30,308.5 L406.85,310.7 L407.40,309.6 L407.95,310.9 L408.50,308.4 L409.05,309.8 L409.60,310.8 L410.15,309.2 L410.70,310.5 L411.25,309.5 L411.80,310.2 L412.35,310.2 L412.90,312.0 L413.45,308.6 L414.00,310.6 L414.55,311.1 L415.10,308.7 L415.65,309.9 L416.20,312.0 L416.75,310.8 L417.30,307.0 L417.85,309.6 L418.40,308.1 L418.95,310.1 L419.50,309.1 L420.05,309.2 L420.60,309.0 L421.15,310.0 L421.70,309.3 L422.25,308.9 L422.80,309.5 L423.35,310.1 L423.90,308.9 L424.45,310.8 L425.00,308.1 L425.55,310.1 L426.10,309.3 L426.65,311.2 L427.20,309.1 L427.75,309.0 L428.30,308.4 L428.85,311.6 L429.40,310.2 L429.95,308.6 L430.50,309.3 L431.05,308.7 L431.60,311.1 L432.15,310.0 L432.70,307.6 L433.25,309.8 L433.80,310.5 L434.35,309.6 L434.90,310.0 L435.45,309.5 L436.00,309.8 L436.55,309.8 L437.10,308.9 L437.65,309.9 L438.20,309.7 L438.75,309.5 L439.30,308.9 L439.85,308.5 L440.40,309.7 L440.95,310.2 L441.50,307.0 L442.05,308.8 L442.60,310.6 L443.15,310.1 L443.70,308.5 L444.25,310.4 L444.80,308.1 L445.35,308.3 L445.90,310.9 L446.45,308.5 L447.00,308.7 L447.55,307.3 L448.10,307.8 L448.65,307.6 L449.20,308.6 L449.75,306.9 L450.30,309.6 L450.85,308.2 L451.40,307.9 L451.95,307.9 L452.50,309.2 L453.05,309.9 L453.60,308.0 L454.15,309.9 L454.70,309.8 L455.25,309.5 L455.80,308.4 L456.35,306.7 L456.90,308.7 L457.45,307.6 L458.00,308.2 L458.55,306.1 L459.10,307.6 L459.65,308.1 L460.20,306.9 L460.75,308.0 L461.30,309.3 L461.85,307.9 L462.40,306.9 L462.95,309.8 L463.50,305.4 L464.05,306.6 L464.60,307.8 L465.15,306.8 L465.70,305.1 L466.25,307.5 L466.80,308.0 L467.35,306.4 L467.90,308.5 L468.45,307.6 L469.00,308.2 L469.55,305.5 L470.10,306.9 L470.65,308.4 L471.20,308.8 L471.75,308.1 L472.30,306.8 L472.85,306.9 L473.40,306.4 L473.95,308.7 L474.50,307.7 L475.05,309.2 L475.60,307.7 L476.15,320.3 L476.70,341.8 L477.25,321.9 L477.80,310.2 L478.35,307.3 L478.90,308.8 L479.45,310.3 L480.00,306.3 L480.55,305.3 L481.10,307.4 L481.65,307.1 L482.20,307.4" fill="none" stroke="#000" stroke-width="1.0"/>
<path d="M372.20,279.8 L372.75,283.4 L373.30,286.8 L373.85,291.6 L374.40,293.6 L374.95,296.9 L375.50,297.3 L376.05,301.0 L376.60,301.8 L377.15,303.9 L377.70,306.2 L378.25,306.7 L378.80,307.6 L379.35,307.4 L379.90,310.1 L380.45,311.7 L381.00,311.1 L381.55,312.4 L382.10,311.4 L382.65,312.4 L383.20,314.7 L383.75,316.0 L384.30,314.9 L384.85,314.0 L385.40,316.3 L385.95,317.3 L386.50,320.6 L387.05,322.5 L387.60,319.2 L388.15,317.1 L388.70,318.2 L389.25,317.0 L389.80,317.7 L390.35,317.7 L390.90,318.0 L391.45,316.2 L392.00,318.3 L392.55,318.5 L393.10,315.5 L393.65,315.0 L394.20,316.8 L394.75,319.1 L395.30,317.7 L395.85,318.3 L396.40,318.1 L396.95,318.4 L397.50,317.5 L398.05,320.8 L398.60,325.0 L399.15,325.4 L399.70,322.0 L400.25,318.4 L400.80,316.6 L401.35,318.1 L401.90,317.4 L402.45,317.9 L403.00,314.3 L403.55,317.7 L404.10,314.2 L404.65,316.7 L405.20,315.8 L405.75,316.4 L406.30,315.8 L406.85,315.8 L407.40,316.2 L407.95,316.3 L408.50,315.2 L409.05,313.5 L409.60,315.2 L410.15,316.4 L410.70,315.1 L411.25,316.3 L411.80,315.5 L412.35,314.9 L412.90,317.0 L413.45,317.4 L414.00,315.7 L414.55,315.8 L415.10,316.7 L415.65,314.5 L416.20,314.9 L416.75,316.9 L417.30,316.6 L417.85,315.2 L418.40,315.0 L418.95,316.0 L419.50,314.3 L420.05,315.2 L420.60,315.4 L421.15,313.2 L421.70,316.2 L422.25,316.4 L422.80,316.6 L423.35,314.2 L423.90,314.3 L424.45,314.8 L425.00,314.3 L425.55,317.5 L426.10,314.6 L426.65,315.2 L427.20,315.7 L427.75,315.9 L428.30,316.9 L428.85,314.4 L429.40,316.3 L429.95,315.6 L430.50,314.2 L431.05,315.5 L431.60,314.0 L432.15,316.9 L432.70,314.6 L433.25,316.3 L433.80,316.6 L434.35,314.7 L434.90,314.4 L435.45,315.4 L436.00,314.2 L436.55,316.1 L437.10,315.4 L437.65,314.4 L438.20,314.5 L438.75,315.9 L439.30,313.7 L439.85,316.8 L440.40,314.4 L440.95,314.9 L441.50,314.2 L442.05,316.7 L442.60,315.9 L443.15,316.3 L443.70,315.7 L444.25,315.1 L444.80,316.7 L445.35,315.7 L445.90,315.4 L446.45,315.6 L447.00,315.7 L447.55,315.3 L448.10,314.9 L448.65,313.5 L449.20,317.1 L449.75,313.8 L450.30,312.9 L450.85,314.3 L451.40,317.0 L451.95,316.3 L452.50,314.5 L453.05,315.3 L453.60,315.0 L454.15,313.1 L454.70,314.8 L455.25,315.4 L455.80,316.2 L456.35,313.9 L456.90,312.9 L457.45,313.6 L458.00,315.4 L458.55,315.2 L459.10,315.3 L459.65,315.3 L460.20,314.8 L460.75,313.8 L461.30,315.6 L461.85,315.5 L462.40,315.7 L462.95,316.4 L463.50,313.9 L464.05,312.8 L464.60,313.4 L465.15,317.3 L465.70,314.3 L466.25,315.6 L466.80,315.2 L467.35,315.9 L467.90,318.4 L468.45,314.7 L469.00,315.0 L469.55,314.6 L470.10,315.4" fill="none" stroke="#000" stroke-width="1.0"/>
<line x1="371.4" y1="249" x2="371.4" y2="349.3" stroke="#222" stroke-width="1.2"/>
<line x1="371.4" y1="349.3" x2="371.4" y2="369.6" stroke="#888" stroke-width="1.1"/>
<rect x="369.5" y="246.5" width="2.8" height="3.5" fill="#111"/>
</svg>
</body></html>
